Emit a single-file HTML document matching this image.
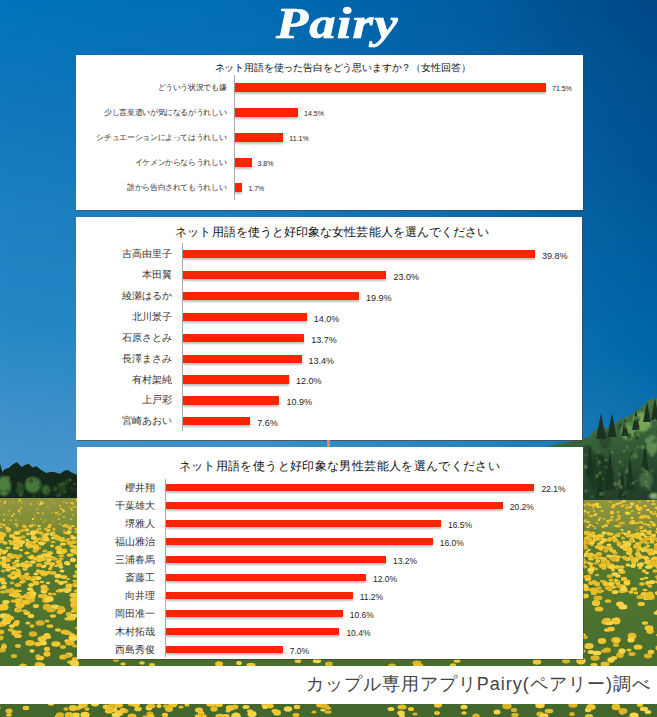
<!DOCTYPE html>
<html><head><meta charset="utf-8"><style>
html,body{margin:0;padding:0}
body{width:657px;height:717px;position:relative;overflow:hidden;font-family:"Liberation Sans",sans-serif;background:#1a78bd}
.panel{position:absolute;background:#fff;box-shadow:0 0 1px 0.5px rgba(70,60,50,.55)}
.t{position:absolute;white-space:nowrap;color:#111;line-height:1.2}
.axis{position:absolute;width:1px;background:#aaa}
.bar{position:absolute;background:#ff2400;box-shadow:0 2px 2px rgba(0,0,0,.25)}
.lab{position:absolute;white-space:nowrap;color:#333;text-align:right}
.val{position:absolute;white-space:nowrap;color:#262626}
.logo{position:absolute;left:276px;top:-2px;-webkit-text-stroke:0.7px #fff;font-family:"Liberation Serif",serif;font-weight:bold;font-style:italic;font-size:45px;line-height:50px;color:#fff;letter-spacing:1px;transform:scaleX(1.17);transform-origin:0 0}
.foot{position:absolute;left:0;top:666px;width:657px;height:38px;background:#fff}
.ft{position:absolute;right:6px;top:672px;font-size:18px;color:#444;white-space:nowrap;line-height:24px;letter-spacing:1.02px}
</style></head><body>
<div style="position:absolute;left:0;top:0px;width:657px;height:5px;background:linear-gradient(90deg,#0073bc 0px,#0072bb 15px,#006eb6 190px,#006cb4 250px,#005fa4 420px,#005a9e 490px,#005091 570px,#004887 642px,#004785 657px)"></div>
<div style="position:absolute;left:0;top:5px;width:657px;height:5px;background:linear-gradient(90deg,#0173bc 0px,#0172bb 15px,#016eb6 190px,#016cb4 250px,#0160a4 420px,#005b9e 490px,#005192 570px,#004988 642px,#004786 657px)"></div>
<div style="position:absolute;left:0;top:10px;width:657px;height:5px;background:linear-gradient(90deg,#0273bc 0px,#0272bb 15px,#026fb6 190px,#026db4 250px,#0160a4 420px,#015b9e 490px,#005192 570px,#004989 642px,#004887 657px)"></div>
<div style="position:absolute;left:0;top:15px;width:657px;height:5px;background:linear-gradient(90deg,#0274bc 0px,#0273bb 15px,#026fb6 190px,#026db4 250px,#0160a4 420px,#015b9e 490px,#005293 570px,#004a89 642px,#004887 657px)"></div>
<div style="position:absolute;left:0;top:20px;width:657px;height:5px;background:linear-gradient(90deg,#0374bc 0px,#0373bb 15px,#036fb6 190px,#036db4 250px,#0261a5 420px,#015c9f 490px,#015293 570px,#004a8a 642px,#004988 657px)"></div>
<div style="position:absolute;left:0;top:25px;width:657px;height:5px;background:linear-gradient(90deg,#0474bb 0px,#0473ba 15px,#036fb6 190px,#036db4 250px,#0261a5 420px,#025c9f 490px,#015294 570px,#004b8a 642px,#004989 657px)"></div>
<div style="position:absolute;left:0;top:30px;width:657px;height:5px;background:linear-gradient(90deg,#0574bb 0px,#0573ba 15px,#046fb6 190px,#046eb4 250px,#0361a5 420px,#025c9f 490px,#015394 570px,#004b8b 642px,#004a89 657px)"></div>
<div style="position:absolute;left:0;top:35px;width:657px;height:5px;background:linear-gradient(90deg,#0574bb 0px,#0574ba 15px,#0570b6 190px,#056eb4 250px,#0362a5 420px,#025da0 490px,#015395 570px,#004c8c 642px,#004a8a 657px)"></div>
<div style="position:absolute;left:0;top:40px;width:657px;height:5px;background:linear-gradient(90deg,#0674bb 0px,#0674ba 15px,#0570b6 190px,#056eb4 250px,#0362a6 420px,#035da0 490px,#015495 570px,#004c8c 642px,#004b8a 657px)"></div>
<div style="position:absolute;left:0;top:45px;width:657px;height:5px;background:linear-gradient(90deg,#0775bb 0px,#0774ba 15px,#0670b6 190px,#066eb4 250px,#0462a6 420px,#035ea0 490px,#015496 570px,#004d8d 642px,#004b8b 657px)"></div>
<div style="position:absolute;left:0;top:50px;width:657px;height:5px;background:linear-gradient(90deg,#0775bb 0px,#0774ba 15px,#0770b6 190px,#066fb4 250px,#0463a6 420px,#035ea1 490px,#015596 570px,#004d8e 642px,#004c8c 657px)"></div>
<div style="position:absolute;left:0;top:55px;width:657px;height:5px;background:linear-gradient(90deg,#0875bb 0px,#0874ba 15px,#0771b6 190px,#076fb4 250px,#0463a6 420px,#035ea1 490px,#025596 570px,#004e8e 642px,#004c8c 657px)"></div>
<div style="position:absolute;left:0;top:60px;width:657px;height:5px;background:linear-gradient(90deg,#0975bb 0px,#0974ba 15px,#0871b6 190px,#086fb4 250px,#0563a6 420px,#045fa1 490px,#025697 570px,#004e8f 642px,#004d8d 657px)"></div>
<div style="position:absolute;left:0;top:65px;width:657px;height:5px;background:linear-gradient(90deg,#0a75ba 0px,#0975ba 15px,#0971b6 190px,#086fb4 250px,#0564a7 420px,#045fa2 490px,#025697 570px,#004f8f 642px,#004d8e 657px)"></div>
<div style="position:absolute;left:0;top:70px;width:657px;height:5px;background:linear-gradient(90deg,#0a76ba 0px,#0a75ba 15px,#0971b6 190px,#0970b4 250px,#0664a7 420px,#045fa2 490px,#025698 570px,#004f90 642px,#004e8e 657px)"></div>
<div style="position:absolute;left:0;top:75px;width:657px;height:5px;background:linear-gradient(90deg,#0b76ba 0px,#0b75b9 15px,#0a72b6 190px,#0970b4 250px,#0664a7 420px,#0560a2 490px,#025798 570px,#005091 642px,#004e8f 657px)"></div>
<div style="position:absolute;left:0;top:80px;width:657px;height:5px;background:linear-gradient(90deg,#0c76ba 0px,#0c75b9 15px,#0a72b6 190px,#0a70b4 250px,#0665a7 420px,#0560a2 490px,#025799 570px,#005091 642px,#004f90 657px)"></div>
<div style="position:absolute;left:0;top:85px;width:657px;height:5px;background:linear-gradient(90deg,#0c76ba 0px,#0c76b9 15px,#0b72b5 190px,#0b70b4 250px,#0765a7 420px,#0560a3 490px,#025799 570px,#005092 642px,#004f90 657px)"></div>
<div style="position:absolute;left:0;top:90px;width:657px;height:5px;background:linear-gradient(90deg,#0d76ba 0px,#0d76b9 15px,#0c72b5 190px,#0b71b4 250px,#0765a8 420px,#0661a3 490px,#025899 570px,#005192 642px,#004f90 657px)"></div>
<div style="position:absolute;left:0;top:95px;width:657px;height:5px;background:linear-gradient(90deg,#0e77ba 0px,#0e76b9 15px,#0c72b5 190px,#0c71b4 250px,#0865a8 420px,#0661a3 490px,#03589a 570px,#005192 642px,#005091 657px)"></div>
<div style="position:absolute;left:0;top:100px;width:657px;height:5px;background:linear-gradient(90deg,#0f77ba 0px,#0e76b9 15px,#0d73b6 190px,#0c71b4 250px,#0866a8 420px,#0661a3 490px,#03589a 570px,#005193 642px,#005091 657px)"></div>
<div style="position:absolute;left:0;top:105px;width:657px;height:5px;background:linear-gradient(90deg,#0f77ba 0px,#0f77b9 15px,#0d73b6 190px,#0d71b4 250px,#0866a8 420px,#0662a4 490px,#03599b 570px,#005293 642px,#005092 657px)"></div>
<div style="position:absolute;left:0;top:110px;width:657px;height:5px;background:linear-gradient(90deg,#1078bb 0px,#1077ba 15px,#0e74b6 190px,#0d72b4 250px,#0966a9 420px,#0762a4 490px,#03599b 570px,#005294 642px,#005092 657px)"></div>
<div style="position:absolute;left:0;top:115px;width:657px;height:5px;background:linear-gradient(90deg,#1078bb 0px,#1078ba 15px,#0f74b6 190px,#0e72b5 250px,#0967a9 420px,#0762a4 490px,#03599b 570px,#005294 642px,#005193 657px)"></div>
<div style="position:absolute;left:0;top:120px;width:657px;height:5px;background:linear-gradient(90deg,#1179bb 0px,#1178ba 15px,#0f74b7 190px,#0e73b5 250px,#0967a9 420px,#0763a5 490px,#035a9c 570px,#005294 642px,#005193 657px)"></div>
<div style="position:absolute;left:0;top:125px;width:657px;height:5px;background:linear-gradient(90deg,#1279bb 0px,#1178bb 15px,#1075b7 190px,#0f73b5 250px,#0a67aa 420px,#0763a5 490px,#035a9c 570px,#005395 642px,#005193 657px)"></div>
<div style="position:absolute;left:0;top:130px;width:657px;height:5px;background:linear-gradient(90deg,#127abc 0px,#1279bb 15px,#1075b7 190px,#0f74b6 250px,#0a68aa 420px,#0863a6 490px,#035a9c 570px,#005395 642px,#005294 657px)"></div>
<div style="position:absolute;left:0;top:135px;width:657px;height:5px;background:linear-gradient(90deg,#137abc 0px,#1379bb 15px,#1176b8 190px,#1074b6 250px,#0a68aa 420px,#0864a6 490px,#045b9d 570px,#005396 642px,#005294 657px)"></div>
<div style="position:absolute;left:0;top:140px;width:657px;height:5px;background:linear-gradient(90deg,#147abc 0px,#137abc 15px,#1176b8 190px,#1074b6 250px,#0b69ab 420px,#0864a6 490px,#045b9d 570px,#005496 642px,#005295 657px)"></div>
<div style="position:absolute;left:0;top:145px;width:657px;height:5px;background:linear-gradient(90deg,#147bbd 0px,#147abc 15px,#1277b8 190px,#1175b7 250px,#0b69ab 420px,#0964a7 490px,#045b9e 570px,#005497 642px,#005295 657px)"></div>
<div style="position:absolute;left:0;top:150px;width:657px;height:5px;background:linear-gradient(90deg,#157bbd 0px,#147bbc 15px,#1277b9 190px,#1275b7 250px,#0b69ab 420px,#0965a7 490px,#045c9e 570px,#005497 642px,#005395 657px)"></div>
<div style="position:absolute;left:0;top:155px;width:657px;height:5px;background:linear-gradient(90deg,#157cbd 0px,#157bbc 15px,#1377b9 190px,#1276b7 250px,#0c6aac 420px,#0965a7 490px,#045c9e 570px,#005597 642px,#005396 657px)"></div>
<div style="position:absolute;left:0;top:160px;width:657px;height:5px;background:linear-gradient(90deg,#167cbe 0px,#167bbd 15px,#1478b9 190px,#1376b8 250px,#0c6aac 420px,#0965a8 490px,#045c9f 570px,#005598 642px,#005396 657px)"></div>
<div style="position:absolute;left:0;top:165px;width:657px;height:5px;background:linear-gradient(90deg,#177dbe 0px,#167cbd 15px,#1478ba 190px,#1376b8 250px,#0c6aad 420px,#0a66a8 490px,#045d9f 570px,#005598 642px,#005497 657px)"></div>
<div style="position:absolute;left:0;top:170px;width:657px;height:5px;background:linear-gradient(90deg,#177dbe 0px,#177cbd 15px,#1579ba 190px,#1477b8 250px,#0d6bad 420px,#0a66a8 490px,#045da0 570px,#005699 642px,#005497 657px)"></div>
<div style="position:absolute;left:0;top:175px;width:657px;height:5px;background:linear-gradient(90deg,#187ebe 0px,#177dbe 15px,#1579ba 190px,#1477b9 250px,#0d6bad 420px,#0a67a9 490px,#045ea0 570px,#005699 642px,#005598 657px)"></div>
<div style="position:absolute;left:0;top:180px;width:657px;height:5px;background:linear-gradient(90deg,#197ebf 0px,#187dbe 15px,#167abb 190px,#1578b9 250px,#0d6cae 420px,#0a67a9 490px,#055ea0 570px,#005799 642px,#005598 657px)"></div>
<div style="position:absolute;left:0;top:185px;width:657px;height:5px;background:linear-gradient(90deg,#197ebf 0px,#197ebe 15px,#167abb 190px,#1578b9 250px,#0e6cae 420px,#0b68aa 490px,#055fa1 570px,#00579a 642px,#005698 657px)"></div>
<div style="position:absolute;left:0;top:190px;width:657px;height:5px;background:linear-gradient(90deg,#1a7fbf 0px,#197ebf 15px,#177abb 190px,#1679ba 250px,#0e6dae 420px,#0b68aa 490px,#055fa1 570px,#00589a 642px,#005699 657px)"></div>
<div style="position:absolute;left:0;top:195px;width:657px;height:5px;background:linear-gradient(90deg,#1a7fc0 0px,#1a7ebf 15px,#177bbb 190px,#1679ba 250px,#0e6daf 420px,#0b69aa 490px,#0560a2 570px,#00589b 642px,#005799 657px)"></div>
<div style="position:absolute;left:0;top:200px;width:657px;height:5px;background:linear-gradient(90deg,#1b80c0 0px,#1a7fbf 15px,#187bbc 190px,#177aba 250px,#0f6eaf 420px,#0b69ab 490px,#0560a2 570px,#00599b 642px,#00579a 657px)"></div>
<div style="position:absolute;left:0;top:205px;width:657px;height:5px;background:linear-gradient(90deg,#1c80c0 0px,#1b7fc0 15px,#197cbc 190px,#177abb 250px,#0f6eaf 420px,#0c6aab 490px,#0561a2 570px,#00599c 642px,#00589a 657px)"></div>
<div style="position:absolute;left:0;top:210px;width:657px;height:5px;background:linear-gradient(90deg,#1c81c1 0px,#1c80c0 15px,#197cbc 190px,#187abb 250px,#0f6fb0 420px,#0c6aab 490px,#0561a3 570px,#005a9c 642px,#00589b 657px)"></div>
<div style="position:absolute;left:0;top:215px;width:657px;height:5px;background:linear-gradient(90deg,#1d81c1 0px,#1c80c0 15px,#197dbd 190px,#187bbb 250px,#0f6fb0 420px,#0c6bac 490px,#0562a3 570px,#005b9c 642px,#00599b 657px)"></div>
<div style="position:absolute;left:0;top:220px;width:657px;height:5px;background:linear-gradient(90deg,#1d81c1 0px,#1c80c0 15px,#1a7dbd 190px,#197bbb 250px,#1070b0 420px,#0c6bac 490px,#0562a4 570px,#005b9d 642px,#005a9b 657px)"></div>
<div style="position:absolute;left:0;top:225px;width:657px;height:5px;background:linear-gradient(90deg,#1d82c1 0px,#1d81c1 15px,#1a7dbd 190px,#197cbc 250px,#1070b1 420px,#0c6cad 490px,#0563a4 570px,#005c9d 642px,#005a9c 657px)"></div>
<div style="position:absolute;left:0;top:230px;width:657px;height:5px;background:linear-gradient(90deg,#1e82c2 0px,#1d81c1 15px,#1a7ebe 190px,#197cbc 250px,#1070b1 420px,#0d6cad 490px,#0663a4 570px,#005c9e 642px,#005b9c 657px)"></div>
<div style="position:absolute;left:0;top:235px;width:657px;height:5px;background:linear-gradient(90deg,#1e82c2 0px,#1e82c1 15px,#1b7ebe 190px,#197cbc 250px,#1071b1 420px,#0d6cad 490px,#0664a5 570px,#005d9e 642px,#005b9d 657px)"></div>
<div style="position:absolute;left:0;top:240px;width:657px;height:5px;background:linear-gradient(90deg,#1e83c2 0px,#1e82c2 15px,#1b7ebe 190px,#1a7dbd 250px,#1071b2 420px,#0d6dae 490px,#0664a5 570px,#005d9f 642px,#005c9d 657px)"></div>
<div style="position:absolute;left:0;top:245px;width:657px;height:5px;background:linear-gradient(90deg,#1f83c3 0px,#1e82c2 15px,#1b7fbf 190px,#1a7dbd 250px,#1172b2 420px,#0d6dae 490px,#0665a6 570px,#005e9f 642px,#005c9e 657px)"></div>
<div style="position:absolute;left:0;top:250px;width:657px;height:5px;background:linear-gradient(90deg,#1f83c3 0px,#1e82c2 15px,#1c7fbf 190px,#1a7dbd 250px,#1172b2 420px,#0d6eae 490px,#0665a6 570px,#005e9f 642px,#005d9e 657px)"></div>
<div style="position:absolute;left:0;top:255px;width:657px;height:5px;background:linear-gradient(90deg,#1f84c3 0px,#1f83c2 15px,#1c7fbf 190px,#1b7ebe 250px,#1173b3 420px,#0d6eaf 490px,#0666a6 570px,#005fa0 642px,#005d9e 657px)"></div>
<div style="position:absolute;left:0;top:260px;width:657px;height:5px;background:linear-gradient(90deg,#2084c3 0px,#1f83c3 15px,#1c80bf 190px,#1b7ebe 250px,#1173b3 420px,#0d6faf 490px,#0666a7 570px,#005fa0 642px,#005e9f 657px)"></div>
<div style="position:absolute;left:0;top:265px;width:657px;height:5px;background:linear-gradient(90deg,#2084c4 0px,#2084c3 15px,#1d80c0 190px,#1b7fbe 250px,#1173b4 420px,#0e6faf 490px,#0667a7 570px,#0060a1 642px,#005e9f 657px)"></div>
<div style="position:absolute;left:0;top:270px;width:657px;height:5px;background:linear-gradient(90deg,#2085c4 0px,#2084c3 15px,#1d80c0 190px,#1b7fbe 250px,#1274b4 420px,#0e70b0 490px,#0667a8 570px,#0060a1 642px,#005fa0 657px)"></div>
<div style="position:absolute;left:0;top:275px;width:657px;height:5px;background:linear-gradient(90deg,#2185c4 0px,#2084c4 15px,#1d81c0 190px,#1c7fbf 250px,#1274b4 420px,#0e70b0 490px,#0668a8 570px,#0061a1 642px,#005fa0 657px)"></div>
<div style="position:absolute;left:0;top:280px;width:657px;height:5px;background:linear-gradient(90deg,#2185c5 0px,#2084c4 15px,#1d81c1 190px,#1c80bf 250px,#1275b5 420px,#0e70b0 490px,#0668a8 570px,#0061a2 642px,#0060a1 657px)"></div>
<div style="position:absolute;left:0;top:285px;width:657px;height:5px;background:linear-gradient(90deg,#2186c5 0px,#2185c4 15px,#1e82c1 190px,#1c80bf 250px,#1275b5 420px,#0e71b1 490px,#0669a9 570px,#0062a2 642px,#0060a1 657px)"></div>
<div style="position:absolute;left:0;top:290px;width:657px;height:5px;background:linear-gradient(90deg,#2286c5 0px,#2185c4 15px,#1e82c1 190px,#1d80c0 250px,#1276b5 420px,#0e71b1 490px,#0669a9 570px,#0062a3 642px,#0061a1 657px)"></div>
<div style="position:absolute;left:0;top:295px;width:657px;height:5px;background:linear-gradient(90deg,#2286c5 0px,#2286c5 15px,#1e82c2 190px,#1d81c0 250px,#1276b6 420px,#0e72b2 490px,#066aaa 570px,#0063a3 642px,#0062a2 657px)"></div>
<div style="position:absolute;left:0;top:300px;width:657px;height:5px;background:linear-gradient(90deg,#2387c6 0px,#2286c5 15px,#1f83c2 190px,#1d81c0 250px,#1376b6 420px,#0f72b2 490px,#066aaa 570px,#0063a4 642px,#0062a2 657px)"></div>
<div style="position:absolute;left:0;top:305px;width:657px;height:5px;background:linear-gradient(90deg,#2387c6 0px,#2286c5 15px,#1f83c2 190px,#1d81c1 250px,#1377b6 420px,#0f73b2 490px,#066aaa 570px,#0064a4 642px,#0063a3 657px)"></div>
<div style="position:absolute;left:0;top:310px;width:657px;height:5px;background:linear-gradient(90deg,#2387c6 0px,#2286c6 15px,#1f83c2 190px,#1e82c1 250px,#1377b7 420px,#0f73b3 490px,#076bab 570px,#0065a4 642px,#0063a3 657px)"></div>
<div style="position:absolute;left:0;top:315px;width:657px;height:5px;background:linear-gradient(90deg,#2488c7 0px,#2387c6 15px,#2084c3 190px,#1e82c1 250px,#1378b7 420px,#0f74b3 490px,#076bab 570px,#0065a5 642px,#0064a4 657px)"></div>
<div style="position:absolute;left:0;top:320px;width:657px;height:5px;background:linear-gradient(90deg,#2488c7 0px,#2487c6 15px,#2084c3 190px,#1f83c1 250px,#1478b7 420px,#0f74b3 490px,#076cab 570px,#0066a5 642px,#0064a4 657px)"></div>
<div style="position:absolute;left:0;top:325px;width:657px;height:5px;background:linear-gradient(90deg,#2688c7 0px,#2588c6 15px,#2285c3 190px,#2083c2 250px,#1479b8 420px,#1075b4 490px,#076cac 570px,#0066a6 642px,#0065a4 657px)"></div>
<div style="position:absolute;left:0;top:330px;width:657px;height:5px;background:linear-gradient(90deg,#2789c7 0px,#2688c6 15px,#2385c3 190px,#2183c2 250px,#1579b8 420px,#1075b4 490px,#076dac 570px,#0067a6 642px,#0065a5 657px)"></div>
<div style="position:absolute;left:0;top:335px;width:657px;height:5px;background:linear-gradient(90deg,#2989c7 0px,#2889c6 15px,#2485c3 190px,#2284c2 250px,#167ab8 420px,#1176b4 490px,#086ead 570px,#0067a7 642px,#0066a5 657px)"></div>
<div style="position:absolute;left:0;top:340px;width:657px;height:5px;background:linear-gradient(90deg,#2a8ac7 0px,#2989c7 15px,#2586c4 190px,#2384c2 250px,#177ab8 420px,#1276b5 490px,#086ead 570px,#0068a7 642px,#0066a6 657px)"></div>
<div style="position:absolute;left:0;top:345px;width:657px;height:5px;background:linear-gradient(90deg,#2b8ac7 0px,#2a8ac7 15px,#2686c4 190px,#2485c2 250px,#177bb9 420px,#1277b5 490px,#086fad 570px,#0068a7 642px,#0067a6 657px)"></div>
<div style="position:absolute;left:0;top:350px;width:657px;height:5px;background:linear-gradient(90deg,#2d8bc7 0px,#2c8ac7 15px,#2887c4 190px,#2685c2 250px,#187bb9 420px,#1377b5 490px,#086fae 570px,#0069a8 642px,#0067a7 657px)"></div>
<div style="position:absolute;left:0;top:355px;width:657px;height:5px;background:linear-gradient(90deg,#2e8bc8 0px,#2d8bc7 15px,#2987c4 190px,#2786c3 250px,#197cb9 420px,#1478b5 490px,#0970ae 570px,#0169a8 642px,#0068a7 657px)"></div>
<div style="position:absolute;left:0;top:360px;width:657px;height:5px;background:linear-gradient(90deg,#2f8cc8 0px,#2e8bc7 15px,#2a88c4 190px,#2886c3 250px,#1a7cb9 420px,#1578b6 490px,#0a70af 570px,#026aa9 642px,#0069a8 657px)"></div>
<div style="position:absolute;left:0;top:365px;width:657px;height:5px;background:linear-gradient(90deg,#318cc8 0px,#308cc7 15px,#2c88c4 190px,#2987c3 250px,#1c7dba 420px,#1679b6 490px,#0b71af 570px,#036ba9 642px,#0169a8 657px)"></div>
<div style="position:absolute;left:0;top:370px;width:657px;height:5px;background:linear-gradient(90deg,#328dc8 0px,#318cc7 15px,#2d89c5 190px,#2b87c3 250px,#1d7dba 420px,#1779b7 490px,#0c71af 570px,#046baa 642px,#026aa9 657px)"></div>
<div style="position:absolute;left:0;top:375px;width:657px;height:5px;background:linear-gradient(90deg,#338dc8 0px,#328cc8 15px,#2e89c5 190px,#2c88c3 250px,#1e7eba 420px,#187ab7 490px,#0e72b0 570px,#056caa 642px,#036aa9 657px)"></div>
<div style="position:absolute;left:0;top:380px;width:657px;height:5px;background:linear-gradient(90deg,#358ec8 0px,#348dc8 15px,#2f8ac5 190px,#2d88c4 250px,#1f7ebb 420px,#1a7ab7 490px,#0f73b0 570px,#066cab 642px,#046baa 657px)"></div>
<div style="position:absolute;left:0;top:385px;width:657px;height:5px;background:linear-gradient(90deg,#368ec8 0px,#358dc8 15px,#318ac5 190px,#2f89c4 250px,#207fbb 420px,#1b7bb8 490px,#1073b1 570px,#076dac 642px,#056caa 657px)"></div>
<div style="position:absolute;left:0;top:390px;width:657px;height:5px;background:linear-gradient(90deg,#378fc8 0px,#378ec8 15px,#328bc5 190px,#3089c4 250px,#227fbb 420px,#1c7cb8 490px,#1174b1 570px,#086eac 642px,#066cab 657px)"></div>
<div style="position:absolute;left:0;top:395px;width:657px;height:5px;background:linear-gradient(90deg,#398fc9 0px,#388ec8 15px,#338bc5 190px,#318ac4 250px,#2380bc 420px,#1d7cb8 490px,#1274b2 570px,#096ead 642px,#076dab 657px)"></div>
<div style="position:absolute;left:0;top:400px;width:657px;height:5px;background:linear-gradient(90deg,#3a90c9 0px,#398fc8 15px,#358cc6 190px,#338ac4 250px,#2480bc 420px,#1e7db9 490px,#1375b2 570px,#0a6fad 642px,#086eac 657px)"></div>
<div style="position:absolute;left:0;top:405px;width:657px;height:5px;background:linear-gradient(90deg,#3c90c9 0px,#3b8fc8 15px,#368cc6 190px,#348bc5 250px,#2581bc 420px,#207db9 490px,#1476b3 570px,#0b6fae 642px,#096ead 657px)"></div>
<div style="position:absolute;left:0;top:410px;width:657px;height:5px;background:linear-gradient(90deg,#3d90c9 0px,#3c90c8 15px,#378dc6 190px,#358bc5 250px,#2782bd 420px,#217eb9 490px,#1576b3 570px,#0c70ae 642px,#0a6fad 657px)"></div>
<div style="position:absolute;left:0;top:415px;width:657px;height:5px;background:linear-gradient(90deg,#3e91c9 0px,#3d90c9 15px,#398dc6 190px,#378cc5 250px,#2882bd 420px,#227eba 490px,#1777b4 570px,#0d71af 642px,#0c6fae 657px)"></div>
<div style="position:absolute;left:0;top:420px;width:657px;height:5px;background:linear-gradient(90deg,#4091c9 0px,#3f91c9 15px,#3a8ec6 190px,#388cc5 250px,#2983bd 420px,#237fba 490px,#1777b4 570px,#0e71af 642px,#0c70ae 657px)"></div>
<div style="position:absolute;left:0;top:425px;width:657px;height:5px;background:linear-gradient(90deg,#4192c9 0px,#4091c9 15px,#3b8ec6 190px,#398dc5 250px,#2a83bd 420px,#247fba 490px,#1878b4 570px,#0f72af 642px,#0d70ae 657px)"></div>
<div style="position:absolute;left:0;top:430px;width:657px;height:5px;background:linear-gradient(90deg,#4292c9 0px,#4192c9 15px,#3d8fc7 190px,#3a8dc5 250px,#2b84be 420px,#2580bb 490px,#1978b5 570px,#0f72b0 642px,#0d71af 657px)"></div>
<div style="position:absolute;left:0;top:435px;width:657px;height:5px;background:linear-gradient(90deg,#4393ca 0px,#4292c9 15px,#3e8fc7 190px,#3b8ec6 250px,#2b84be 420px,#2580bb 490px,#1979b5 570px,#0f73b0 642px,#0d71af 657px)"></div>
<div style="position:absolute;left:0;top:440px;width:657px;height:5px;background:linear-gradient(90deg,#4493ca 0px,#4393ca 15px,#3e90c7 190px,#3c8ec6 250px,#2c84be 420px,#2681bb 490px,#1979b5 570px,#1073b0 642px,#0e72af 657px)"></div>
<div style="position:absolute;left:0;top:445px;width:657px;height:5px;background:linear-gradient(90deg,#4594cb 0px,#4493ca 15px,#3f90c8 190px,#3d8fc7 250px,#2d85bf 420px,#2681bc 490px,#1a79b6 570px,#1073b1 642px,#0e72b0 657px)"></div>
<div style="position:absolute;left:0;top:450px;width:657px;height:5px;background:linear-gradient(90deg,#4695cb 0px,#4594cb 15px,#4091c8 190px,#3d8fc7 250px,#2d85bf 420px,#2782bc 490px,#1a7ab6 570px,#1074b1 642px,#0e73b0 657px)"></div>
<div style="position:absolute;left:0;top:455px;width:657px;height:5px;background:linear-gradient(90deg,#4795cc 0px,#4594cb 15px,#4091c9 190px,#3e90c8 250px,#2e86c0 420px,#2782bd 490px,#1b7ab6 570px,#1174b1 642px,#0f73b0 657px)"></div>
<div style="position:absolute;left:0;top:460px;width:657px;height:5px;background:linear-gradient(90deg,#4796cc 0px,#4695cc 15px,#4192c9 190px,#3f90c8 250px,#2e86c0 420px,#2883bd 490px,#1b7bb7 570px,#1175b2 642px,#0f73b1 657px)"></div>
<div style="position:absolute;left:0;top:465px;width:657px;height:5px;background:linear-gradient(90deg,#4896cd 0px,#4796cc 15px,#4292ca 190px,#4091c9 250px,#2f87c1 420px,#2983bd 490px,#1c7bb7 570px,#1275b2 642px,#0f74b1 657px)"></div>
<div style="position:absolute;left:0;top:470px;width:657px;height:5px;background:linear-gradient(90deg,#4997ce 0px,#4896cd 15px,#4393ca 190px,#4091c9 250px,#3087c1 420px,#2984be 490px,#1c7cb7 570px,#1276b2 642px,#1074b1 657px)"></div>
<div style="position:absolute;left:0;top:475px;width:657px;height:5px;background:linear-gradient(90deg,#4a97ce 0px,#4997ce 15px,#4393cb 190px,#4192ca 250px,#3088c1 420px,#2a84be 490px,#1d7cb8 570px,#1276b3 642px,#1075b2 657px)"></div>
<div style="position:absolute;left:0;top:480px;width:657px;height:5px;background:linear-gradient(90deg,#4a98cf 0px,#4997ce 15px,#4494cc 190px,#4293ca 250px,#3188c2 420px,#2a85bf 490px,#1d7db8 570px,#1376b3 642px,#1175b2 657px)"></div>
<div style="position:absolute;left:0;top:485px;width:657px;height:5px;background:linear-gradient(90deg,#4b98cf 0px,#4a98cf 15px,#4595cc 190px,#4293cb 250px,#3189c2 420px,#2b85bf 490px,#1e7db8 570px,#1377b3 642px,#1176b2 657px)"></div>
<div style="position:absolute;left:0;top:490px;width:657px;height:5px;background:linear-gradient(90deg,#4c99d0 0px,#4b98cf 15px,#4695cd 190px,#4394cb 250px,#3289c3 420px,#2b85bf 490px,#1e7eb9 570px,#1377b4 642px,#1176b2 657px)"></div>
<div style="position:absolute;left:0;top:495px;width:657px;height:5px;background:linear-gradient(90deg,#4d99d0 0px,#4c99d0 15px,#4696cd 190px,#4494cc 250px,#338ac3 420px,#2c86c0 490px,#1e7eb9 570px,#1478b4 642px,#1276b3 657px)"></div>
<svg style="position:absolute;left:0;top:0" width="657" height="717">
<defs><linearGradient id="mg" x1="0" y1="0" x2="0" y2="1"><stop offset="0" stop-color="#94983f"/><stop offset="0.13" stop-color="#7f8c38"/><stop offset="0.2" stop-color="#557c30"/><stop offset="1" stop-color="#42662c"/></linearGradient></defs>
<rect x="0" y="496" width="657" height="221" fill="url(#mg)"/>
<ellipse cx="63" cy="512" rx="0.9" ry="0.6" fill="#f2c934"/>
<ellipse cx="47" cy="563" rx="2.9" ry="1.9" fill="#f0c52e"/>
<ellipse cx="-3" cy="586" rx="2.2" ry="1.3" fill="#f2c934"/>
<ellipse cx="62" cy="551" rx="2.1" ry="1.2" fill="#f7d548"/>
<ellipse cx="16" cy="545" rx="2.9" ry="1.8" fill="#f7d548"/>
<ellipse cx="19" cy="511" rx="1.5" ry="1.0" fill="#f2c934"/>
<ellipse cx="7" cy="616" rx="3.6" ry="2.2" fill="#f0c52e"/>
<ellipse cx="61" cy="567" rx="2.4" ry="1.8" fill="#f2c934"/>
<ellipse cx="21" cy="508" rx="1.2" ry="0.7" fill="#f0c52e"/>
<ellipse cx="27" cy="602" rx="3.9" ry="2.7" fill="#e8bd2a"/>
<ellipse cx="70" cy="527" rx="2.4" ry="1.7" fill="#e8bd2a"/>
<ellipse cx="37" cy="509" rx="0.9" ry="0.6" fill="#f7d548"/>
<ellipse cx="11" cy="618" rx="3.1" ry="2.0" fill="#f0c52e"/>
<ellipse cx="19" cy="572" rx="2.2" ry="1.3" fill="#f0c52e"/>
<ellipse cx="79" cy="512" rx="1.1" ry="0.6" fill="#f0c52e"/>
<ellipse cx="46" cy="520" rx="0.8" ry="0.6" fill="#f7d548"/>
<ellipse cx="23" cy="666" rx="3.8" ry="2.6" fill="#e8bd2a"/>
<ellipse cx="46" cy="600" rx="4.0" ry="3.0" fill="#dcb428"/>
<ellipse cx="58" cy="562" rx="2.7" ry="1.6" fill="#f0c52e"/>
<ellipse cx="3" cy="624" rx="3.9" ry="2.4" fill="#e8bd2a"/>
<ellipse cx="75" cy="581" rx="2.6" ry="1.5" fill="#dcb428"/>
<ellipse cx="72" cy="503" rx="1.5" ry="1.0" fill="#f2c934"/>
<ellipse cx="34" cy="543" rx="2.4" ry="1.6" fill="#dcb428"/>
<ellipse cx="20" cy="556" rx="2.6" ry="1.7" fill="#dcb428"/>
<ellipse cx="16" cy="520" rx="1.2" ry="0.8" fill="#f0c52e"/>
<ellipse cx="54" cy="530" rx="1.6" ry="0.8" fill="#dcb428"/>
<ellipse cx="41" cy="502" rx="1.3" ry="0.9" fill="#f0c52e"/>
<ellipse cx="39" cy="665" rx="4.5" ry="3.0" fill="#e8bd2a"/>
<ellipse cx="73" cy="560" rx="3.1" ry="2.2" fill="#f7d548"/>
<ellipse cx="69" cy="555" rx="2.4" ry="1.6" fill="#f7d548"/>
<ellipse cx="1" cy="632" rx="3.3" ry="2.3" fill="#e8bd2a"/>
<ellipse cx="67" cy="591" rx="2.8" ry="2.0" fill="#f7d548"/>
<ellipse cx="-2" cy="529" rx="2.2" ry="1.3" fill="#f7d548"/>
<ellipse cx="41" cy="533" rx="2.6" ry="1.7" fill="#e8bd2a"/>
<ellipse cx="73" cy="550" rx="3.2" ry="1.8" fill="#e8bd2a"/>
<ellipse cx="71" cy="519" rx="1.3" ry="0.7" fill="#f2c934"/>
<ellipse cx="12" cy="516" rx="0.9" ry="0.5" fill="#f2c934"/>
<ellipse cx="32" cy="556" rx="2.3" ry="1.5" fill="#f2c934"/>
<ellipse cx="68" cy="527" rx="2.2" ry="1.3" fill="#e8bd2a"/>
<ellipse cx="6" cy="622" rx="4.7" ry="2.5" fill="#f7d548"/>
<ellipse cx="61" cy="565" rx="1.9" ry="1.1" fill="#dcb428"/>
<ellipse cx="73" cy="504" rx="1.5" ry="0.8" fill="#e8bd2a"/>
<ellipse cx="18" cy="564" rx="2.1" ry="1.2" fill="#f2c934"/>
<ellipse cx="18" cy="543" rx="2.6" ry="1.6" fill="#f0c52e"/>
<ellipse cx="10" cy="576" rx="2.8" ry="1.8" fill="#f2c934"/>
<ellipse cx="33" cy="580" rx="2.6" ry="1.5" fill="#f0c52e"/>
<ellipse cx="-3" cy="538" rx="2.0" ry="1.4" fill="#dcb428"/>
<ellipse cx="0" cy="550" rx="2.7" ry="1.8" fill="#f7d548"/>
<ellipse cx="35" cy="531" rx="2.0" ry="1.1" fill="#dcb428"/>
<ellipse cx="8" cy="567" rx="2.7" ry="1.8" fill="#f7d548"/>
<ellipse cx="49" cy="557" rx="2.8" ry="1.8" fill="#f0c52e"/>
<ellipse cx="12" cy="543" rx="3.2" ry="2.0" fill="#e8bd2a"/>
<ellipse cx="71" cy="503" rx="1.0" ry="0.6" fill="#f0c52e"/>
<ellipse cx="-1" cy="534" rx="2.9" ry="2.1" fill="#e8bd2a"/>
<ellipse cx="37" cy="532" rx="2.2" ry="1.6" fill="#f2c934"/>
<ellipse cx="60" cy="562" rx="2.0" ry="1.4" fill="#f0c52e"/>
<ellipse cx="4" cy="645" rx="2.7" ry="1.8" fill="#dcb428"/>
<ellipse cx="73" cy="551" rx="2.7" ry="1.9" fill="#f7d548"/>
<ellipse cx="72" cy="538" rx="2.3" ry="1.4" fill="#dcb428"/>
<ellipse cx="27" cy="562" rx="2.7" ry="1.5" fill="#f2c934"/>
<ellipse cx="63" cy="510" rx="1.3" ry="1.0" fill="#f2c934"/>
<ellipse cx="-2" cy="607" rx="4.4" ry="2.7" fill="#e8bd2a"/>
<ellipse cx="74" cy="538" rx="2.7" ry="1.8" fill="#f7d548"/>
<ellipse cx="13" cy="568" rx="3.5" ry="1.8" fill="#f7d548"/>
<ellipse cx="58" cy="548" rx="3.2" ry="2.3" fill="#dcb428"/>
<ellipse cx="23" cy="530" rx="2.1" ry="1.3" fill="#dcb428"/>
<ellipse cx="47" cy="534" rx="2.2" ry="1.2" fill="#f7d548"/>
<ellipse cx="34" cy="538" rx="3.1" ry="1.9" fill="#f7d548"/>
<ellipse cx="42" cy="582" rx="2.2" ry="1.2" fill="#f2c934"/>
<ellipse cx="62" cy="571" rx="2.6" ry="1.6" fill="#f7d548"/>
<ellipse cx="23" cy="565" rx="3.3" ry="2.2" fill="#f2c934"/>
<ellipse cx="27" cy="613" rx="3.4" ry="2.1" fill="#f2c934"/>
<ellipse cx="44" cy="574" rx="3.6" ry="2.5" fill="#e8bd2a"/>
<ellipse cx="60" cy="590" rx="2.2" ry="1.3" fill="#f2c934"/>
<ellipse cx="4" cy="520" rx="1.3" ry="0.9" fill="#e8bd2a"/>
<ellipse cx="56" cy="513" rx="1.5" ry="0.9" fill="#f2c934"/>
<ellipse cx="8" cy="531" rx="2.2" ry="1.4" fill="#dcb428"/>
<ellipse cx="80" cy="586" rx="2.2" ry="1.3" fill="#dcb428"/>
<ellipse cx="5" cy="560" rx="3.0" ry="2.1" fill="#f0c52e"/>
<ellipse cx="57" cy="539" rx="2.2" ry="1.2" fill="#f0c52e"/>
<ellipse cx="49" cy="530" rx="1.7" ry="1.1" fill="#f7d548"/>
<ellipse cx="44" cy="591" rx="3.4" ry="2.6" fill="#f7d548"/>
<ellipse cx="45" cy="637" rx="3.8" ry="2.0" fill="#f2c934"/>
<ellipse cx="50" cy="626" rx="3.5" ry="1.8" fill="#f0c52e"/>
<ellipse cx="29" cy="593" rx="2.8" ry="1.6" fill="#f0c52e"/>
<ellipse cx="38" cy="513" rx="1.4" ry="1.0" fill="#f0c52e"/>
<ellipse cx="22" cy="597" rx="2.8" ry="1.7" fill="#f0c52e"/>
<ellipse cx="35" cy="546" rx="1.8" ry="1.0" fill="#dcb428"/>
<ellipse cx="26" cy="596" rx="2.6" ry="1.9" fill="#f7d548"/>
<ellipse cx="69" cy="614" rx="3.3" ry="2.3" fill="#dcb428"/>
<ellipse cx="44" cy="587" rx="3.5" ry="2.6" fill="#f2c934"/>
<ellipse cx="57" cy="581" rx="2.4" ry="1.7" fill="#f0c52e"/>
<ellipse cx="20" cy="605" rx="4.8" ry="2.9" fill="#f0c52e"/>
<ellipse cx="2" cy="650" rx="3.9" ry="2.5" fill="#dcb428"/>
<ellipse cx="64" cy="511" rx="1.3" ry="0.7" fill="#f7d548"/>
<ellipse cx="74" cy="595" rx="4.6" ry="2.3" fill="#f2c934"/>
<ellipse cx="40" cy="658" rx="4.3" ry="2.3" fill="#f0c52e"/>
<ellipse cx="47" cy="540" rx="3.3" ry="1.7" fill="#dcb428"/>
<ellipse cx="70" cy="527" rx="1.4" ry="0.9" fill="#dcb428"/>
<ellipse cx="-1" cy="515" rx="1.2" ry="0.8" fill="#e8bd2a"/>
<ellipse cx="47" cy="573" rx="2.7" ry="1.8" fill="#f2c934"/>
<ellipse cx="31" cy="585" rx="2.9" ry="1.8" fill="#f2c934"/>
<ellipse cx="3" cy="535" rx="3.2" ry="2.4" fill="#e8bd2a"/>
<ellipse cx="-1" cy="565" rx="1.9" ry="1.1" fill="#f0c52e"/>
<ellipse cx="76" cy="532" rx="1.8" ry="1.1" fill="#e8bd2a"/>
<ellipse cx="12" cy="589" rx="2.3" ry="1.3" fill="#dcb428"/>
<ellipse cx="49" cy="527" rx="2.0" ry="1.2" fill="#f2c934"/>
<ellipse cx="55" cy="558" rx="1.8" ry="1.0" fill="#f7d548"/>
<ellipse cx="14" cy="514" rx="1.3" ry="0.9" fill="#e8bd2a"/>
<ellipse cx="-2" cy="551" rx="1.9" ry="1.4" fill="#f7d548"/>
<ellipse cx="12" cy="583" rx="2.3" ry="1.4" fill="#dcb428"/>
<ellipse cx="9" cy="531" rx="2.2" ry="1.3" fill="#dcb428"/>
<ellipse cx="40" cy="556" rx="2.3" ry="1.5" fill="#e8bd2a"/>
<ellipse cx="24" cy="581" rx="2.2" ry="1.3" fill="#dcb428"/>
<ellipse cx="61" cy="556" rx="2.6" ry="1.8" fill="#dcb428"/>
<ellipse cx="64" cy="577" rx="3.4" ry="1.9" fill="#f2c934"/>
<ellipse cx="74" cy="542" rx="3.1" ry="1.8" fill="#f7d548"/>
<ellipse cx="71" cy="508" rx="1.0" ry="0.6" fill="#f7d548"/>
<ellipse cx="18" cy="610" rx="3.6" ry="2.4" fill="#f7d548"/>
<ellipse cx="48" cy="507" rx="1.1" ry="0.7" fill="#dcb428"/>
<ellipse cx="9" cy="529" rx="2.2" ry="1.2" fill="#f2c934"/>
<ellipse cx="75" cy="663" rx="3.8" ry="2.7" fill="#f0c52e"/>
<ellipse cx="64" cy="531" rx="1.5" ry="0.8" fill="#e8bd2a"/>
<ellipse cx="44" cy="559" rx="2.9" ry="1.8" fill="#e8bd2a"/>
<ellipse cx="51" cy="558" rx="3.2" ry="2.2" fill="#f2c934"/>
<ellipse cx="13" cy="592" rx="3.6" ry="2.4" fill="#e8bd2a"/>
<ellipse cx="7" cy="560" rx="2.1" ry="1.2" fill="#f2c934"/>
<ellipse cx="75" cy="542" rx="2.1" ry="1.4" fill="#dcb428"/>
<ellipse cx="75" cy="664" rx="4.2" ry="2.2" fill="#f2c934"/>
<ellipse cx="12" cy="557" rx="3.0" ry="1.8" fill="#f2c934"/>
<ellipse cx="67" cy="641" rx="2.7" ry="1.7" fill="#f7d548"/>
<ellipse cx="44" cy="543" rx="2.3" ry="1.2" fill="#e8bd2a"/>
<ellipse cx="27" cy="540" rx="1.9" ry="1.3" fill="#f7d548"/>
<ellipse cx="80" cy="565" rx="2.3" ry="1.5" fill="#f0c52e"/>
<ellipse cx="67" cy="619" rx="2.6" ry="1.4" fill="#f2c934"/>
<ellipse cx="53" cy="542" rx="2.6" ry="1.3" fill="#dcb428"/>
<ellipse cx="45" cy="535" rx="2.3" ry="1.5" fill="#f7d548"/>
<ellipse cx="49" cy="572" rx="2.0" ry="1.3" fill="#f0c52e"/>
<ellipse cx="4" cy="553" rx="2.1" ry="1.4" fill="#f0c52e"/>
<ellipse cx="22" cy="531" rx="1.5" ry="0.9" fill="#e8bd2a"/>
<ellipse cx="39" cy="565" rx="2.6" ry="1.9" fill="#e8bd2a"/>
<ellipse cx="-2" cy="526" rx="2.1" ry="1.3" fill="#f7d548"/>
<ellipse cx="31" cy="616" rx="3.2" ry="2.1" fill="#f7d548"/>
<ellipse cx="39" cy="560" rx="1.8" ry="1.3" fill="#f0c52e"/>
<ellipse cx="47" cy="654" rx="3.6" ry="2.7" fill="#f0c52e"/>
<ellipse cx="30" cy="643" rx="4.8" ry="3.0" fill="#e8bd2a"/>
<ellipse cx="8" cy="515" rx="1.0" ry="0.6" fill="#e8bd2a"/>
<ellipse cx="70" cy="529" rx="2.1" ry="1.1" fill="#f0c52e"/>
<ellipse cx="2" cy="580" rx="3.4" ry="2.5" fill="#f2c934"/>
<ellipse cx="5" cy="502" rx="1.4" ry="1.0" fill="#f2c934"/>
<ellipse cx="31" cy="600" rx="4.1" ry="2.5" fill="#dcb428"/>
<ellipse cx="-3" cy="554" rx="2.7" ry="1.6" fill="#f0c52e"/>
<ellipse cx="11" cy="595" rx="2.4" ry="1.3" fill="#f7d548"/>
<ellipse cx="48" cy="557" rx="3.3" ry="2.2" fill="#f7d548"/>
<ellipse cx="2" cy="541" rx="2.7" ry="1.5" fill="#e8bd2a"/>
<ellipse cx="56" cy="536" rx="2.2" ry="1.6" fill="#f7d548"/>
<ellipse cx="15" cy="577" rx="2.6" ry="1.5" fill="#f2c934"/>
<ellipse cx="27" cy="553" rx="2.8" ry="1.6" fill="#f2c934"/>
<ellipse cx="53" cy="538" rx="2.0" ry="1.4" fill="#f7d548"/>
<ellipse cx="29" cy="543" rx="3.1" ry="2.2" fill="#f2c934"/>
<ellipse cx="4" cy="558" rx="2.9" ry="1.9" fill="#f7d548"/>
<ellipse cx="53" cy="522" rx="0.9" ry="0.6" fill="#dcb428"/>
<ellipse cx="80" cy="532" rx="1.5" ry="0.9" fill="#f2c934"/>
<ellipse cx="5" cy="566" rx="3.3" ry="2.3" fill="#f2c934"/>
<ellipse cx="22" cy="582" rx="2.9" ry="1.5" fill="#f2c934"/>
<ellipse cx="39" cy="548" rx="2.1" ry="1.4" fill="#dcb428"/>
<ellipse cx="1" cy="533" rx="2.6" ry="1.6" fill="#f2c934"/>
<ellipse cx="65" cy="582" rx="2.9" ry="1.6" fill="#f0c52e"/>
<ellipse cx="-2" cy="515" rx="1.5" ry="1.0" fill="#f2c934"/>
<ellipse cx="29" cy="547" rx="2.6" ry="1.7" fill="#dcb428"/>
<ellipse cx="0" cy="638" rx="3.7" ry="2.4" fill="#dcb428"/>
<ellipse cx="28" cy="597" rx="4.1" ry="2.4" fill="#e8bd2a"/>
<ellipse cx="60" cy="505" rx="1.0" ry="0.6" fill="#dcb428"/>
<ellipse cx="51" cy="559" rx="2.6" ry="1.4" fill="#dcb428"/>
<ellipse cx="75" cy="605" rx="4.7" ry="3.2" fill="#f0c52e"/>
<ellipse cx="66" cy="525" rx="2.2" ry="1.2" fill="#dcb428"/>
<ellipse cx="55" cy="607" rx="4.5" ry="2.4" fill="#f7d548"/>
<ellipse cx="42" cy="639" rx="4.5" ry="2.8" fill="#f2c934"/>
<ellipse cx="26" cy="566" rx="3.2" ry="2.2" fill="#f7d548"/>
<ellipse cx="16" cy="624" rx="3.2" ry="2.3" fill="#f2c934"/>
<ellipse cx="80" cy="556" rx="2.5" ry="1.6" fill="#dcb428"/>
<ellipse cx="19" cy="538" rx="2.6" ry="1.5" fill="#f7d548"/>
<ellipse cx="20" cy="591" rx="2.0" ry="1.0" fill="#f7d548"/>
<ellipse cx="66" cy="589" rx="2.1" ry="1.4" fill="#e8bd2a"/>
<ellipse cx="62" cy="540" rx="3.2" ry="1.9" fill="#f0c52e"/>
<ellipse cx="44" cy="555" rx="3.2" ry="1.7" fill="#f2c934"/>
<ellipse cx="75" cy="659" rx="3.4" ry="2.0" fill="#e8bd2a"/>
<ellipse cx="1" cy="609" rx="2.6" ry="1.7" fill="#f0c52e"/>
<ellipse cx="75" cy="646" rx="2.9" ry="1.6" fill="#dcb428"/>
<ellipse cx="15" cy="542" rx="2.6" ry="1.9" fill="#e8bd2a"/>
<ellipse cx="69" cy="655" rx="3.7" ry="2.4" fill="#f0c52e"/>
<ellipse cx="77" cy="500" rx="1.4" ry="0.9" fill="#f0c52e"/>
<ellipse cx="14" cy="563" rx="2.3" ry="1.3" fill="#dcb428"/>
<ellipse cx="53" cy="573" rx="3.4" ry="1.9" fill="#e8bd2a"/>
<ellipse cx="14" cy="573" rx="3.5" ry="1.9" fill="#f0c52e"/>
<ellipse cx="18" cy="585" rx="3.4" ry="1.9" fill="#e8bd2a"/>
<ellipse cx="13" cy="502" rx="0.9" ry="0.6" fill="#f0c52e"/>
<ellipse cx="17" cy="533" rx="3.3" ry="1.9" fill="#f7d548"/>
<ellipse cx="81" cy="567" rx="2.1" ry="1.6" fill="#e8bd2a"/>
<ellipse cx="28" cy="545" rx="2.9" ry="1.8" fill="#f2c934"/>
<ellipse cx="32" cy="523" rx="0.9" ry="0.6" fill="#e8bd2a"/>
<ellipse cx="35" cy="559" rx="2.2" ry="1.6" fill="#f2c934"/>
<ellipse cx="6" cy="551" rx="2.2" ry="1.4" fill="#f0c52e"/>
<ellipse cx="4" cy="607" rx="4.6" ry="3.4" fill="#f0c52e"/>
<ellipse cx="38" cy="503" rx="1.1" ry="0.8" fill="#dcb428"/>
<ellipse cx="61" cy="564" rx="2.0" ry="1.1" fill="#e8bd2a"/>
<ellipse cx="78" cy="600" rx="2.6" ry="1.5" fill="#e8bd2a"/>
<ellipse cx="22" cy="503" rx="1.2" ry="0.7" fill="#dcb428"/>
<ellipse cx="17" cy="622" rx="2.9" ry="1.9" fill="#f0c52e"/>
<ellipse cx="16" cy="595" rx="4.7" ry="2.7" fill="#f2c934"/>
<ellipse cx="52" cy="564" rx="3.1" ry="2.0" fill="#f2c934"/>
<ellipse cx="38" cy="578" rx="3.3" ry="2.1" fill="#f7d548"/>
<ellipse cx="34" cy="547" rx="2.0" ry="1.1" fill="#f7d548"/>
<ellipse cx="65" cy="632" rx="4.4" ry="2.5" fill="#e8bd2a"/>
<ellipse cx="70" cy="662" rx="3.1" ry="1.8" fill="#dcb428"/>
<ellipse cx="7" cy="620" rx="4.5" ry="3.1" fill="#f2c934"/>
<ellipse cx="38" cy="561" rx="1.8" ry="1.0" fill="#e8bd2a"/>
<ellipse cx="16" cy="601" rx="2.9" ry="1.8" fill="#dcb428"/>
<ellipse cx="62" cy="553" rx="2.6" ry="1.6" fill="#f2c934"/>
<ellipse cx="4" cy="616" rx="4.3" ry="2.7" fill="#f7d548"/>
<ellipse cx="13" cy="595" rx="2.5" ry="1.3" fill="#f2c934"/>
<ellipse cx="69" cy="586" rx="3.5" ry="2.4" fill="#f2c934"/>
<ellipse cx="12" cy="626" rx="2.9" ry="1.8" fill="#f7d548"/>
<ellipse cx="19" cy="632" rx="2.7" ry="1.4" fill="#f2c934"/>
<ellipse cx="77" cy="529" rx="2.4" ry="1.6" fill="#f2c934"/>
<ellipse cx="59" cy="565" rx="2.8" ry="1.8" fill="#f2c934"/>
<ellipse cx="3" cy="592" rx="2.9" ry="1.7" fill="#dcb428"/>
<ellipse cx="2" cy="562" rx="1.9" ry="1.4" fill="#dcb428"/>
<ellipse cx="50" cy="553" rx="3.0" ry="2.1" fill="#f0c52e"/>
<ellipse cx="34" cy="558" rx="2.5" ry="1.4" fill="#f0c52e"/>
<ellipse cx="71" cy="509" rx="1.0" ry="0.6" fill="#f0c52e"/>
<ellipse cx="52" cy="534" rx="2.6" ry="1.9" fill="#f7d548"/>
<ellipse cx="25" cy="569" rx="2.6" ry="1.8" fill="#f7d548"/>
<ellipse cx="67" cy="563" rx="2.9" ry="2.0" fill="#f7d548"/>
<ellipse cx="45" cy="539" rx="2.6" ry="1.7" fill="#f2c934"/>
<ellipse cx="61" cy="509" rx="1.3" ry="0.9" fill="#e8bd2a"/>
<ellipse cx="28" cy="543" rx="2.6" ry="1.3" fill="#f7d548"/>
<ellipse cx="30" cy="565" rx="2.7" ry="1.9" fill="#f0c52e"/>
<ellipse cx="17" cy="526" rx="1.5" ry="1.0" fill="#e8bd2a"/>
<ellipse cx="36" cy="549" rx="3.0" ry="1.9" fill="#f0c52e"/>
<ellipse cx="39" cy="557" rx="2.7" ry="1.6" fill="#f7d548"/>
<ellipse cx="63" cy="647" rx="3.0" ry="1.9" fill="#e8bd2a"/>
<ellipse cx="-2" cy="551" rx="2.9" ry="1.8" fill="#f0c52e"/>
<ellipse cx="69" cy="507" rx="0.8" ry="0.5" fill="#e8bd2a"/>
<ellipse cx="43" cy="503" rx="1.3" ry="0.7" fill="#f7d548"/>
<ellipse cx="75" cy="547" rx="2.3" ry="1.4" fill="#e8bd2a"/>
<ellipse cx="36" cy="583" rx="3.4" ry="2.3" fill="#f0c52e"/>
<ellipse cx="20" cy="546" rx="2.8" ry="1.4" fill="#dcb428"/>
<ellipse cx="74" cy="638" rx="3.1" ry="2.3" fill="#f0c52e"/>
<ellipse cx="32" cy="591" rx="2.4" ry="1.4" fill="#f2c934"/>
<ellipse cx="46" cy="589" rx="3.1" ry="1.6" fill="#e8bd2a"/>
<ellipse cx="53" cy="533" rx="2.6" ry="1.5" fill="#f0c52e"/>
<ellipse cx="74" cy="600" rx="4.2" ry="3.1" fill="#f0c52e"/>
<ellipse cx="77" cy="591" rx="3.0" ry="1.7" fill="#e8bd2a"/>
<ellipse cx="60" cy="506" rx="1.4" ry="0.7" fill="#e8bd2a"/>
<ellipse cx="51" cy="567" rx="1.8" ry="1.2" fill="#f7d548"/>
<ellipse cx="74" cy="611" rx="3.0" ry="1.7" fill="#f7d548"/>
<ellipse cx="76" cy="609" rx="4.0" ry="2.6" fill="#dcb428"/>
<ellipse cx="75" cy="550" rx="2.4" ry="1.5" fill="#f2c934"/>
<ellipse cx="41" cy="504" rx="1.5" ry="0.9" fill="#f7d548"/>
<ellipse cx="48" cy="531" rx="2.1" ry="1.4" fill="#e8bd2a"/>
<ellipse cx="34" cy="578" rx="2.8" ry="2.1" fill="#e8bd2a"/>
<ellipse cx="9" cy="524" rx="0.8" ry="0.6" fill="#dcb428"/>
<ellipse cx="8" cy="617" rx="3.3" ry="2.5" fill="#f2c934"/>
<ellipse cx="46" cy="535" rx="2.5" ry="1.5" fill="#f2c934"/>
<ellipse cx="50" cy="525" rx="2.0" ry="1.2" fill="#e8bd2a"/>
<ellipse cx="28" cy="623" rx="2.6" ry="1.5" fill="#f0c52e"/>
<ellipse cx="21" cy="545" rx="2.0" ry="1.4" fill="#f7d548"/>
<ellipse cx="18" cy="546" rx="3.3" ry="1.7" fill="#e8bd2a"/>
<ellipse cx="17" cy="591" rx="2.6" ry="1.8" fill="#f0c52e"/>
<ellipse cx="8" cy="565" rx="2.0" ry="1.4" fill="#f2c934"/>
<ellipse cx="33" cy="594" rx="3.5" ry="2.1" fill="#f7d548"/>
<ellipse cx="18" cy="558" rx="2.1" ry="1.5" fill="#e8bd2a"/>
<ellipse cx="64" cy="526" rx="1.9" ry="1.3" fill="#f7d548"/>
<ellipse cx="23" cy="564" rx="2.9" ry="1.8" fill="#f0c52e"/>
<ellipse cx="13" cy="601" rx="2.6" ry="1.6" fill="#e8bd2a"/>
<ellipse cx="18" cy="539" rx="3.0" ry="2.2" fill="#f2c934"/>
<ellipse cx="51" cy="500" rx="0.8" ry="0.4" fill="#f2c934"/>
<ellipse cx="10" cy="555" rx="2.8" ry="2.0" fill="#f2c934"/>
<ellipse cx="1" cy="588" rx="2.7" ry="1.5" fill="#dcb428"/>
<ellipse cx="36" cy="541" rx="2.5" ry="1.6" fill="#f2c934"/>
<ellipse cx="42" cy="557" rx="1.9" ry="1.4" fill="#f7d548"/>
<ellipse cx="34" cy="593" rx="2.3" ry="1.2" fill="#f7d548"/>
<ellipse cx="10" cy="520" rx="0.9" ry="0.6" fill="#f2c934"/>
<ellipse cx="44" cy="522" rx="0.9" ry="0.7" fill="#f7d548"/>
<ellipse cx="76" cy="553" rx="3.0" ry="1.6" fill="#f2c934"/>
<ellipse cx="79" cy="552" rx="3.2" ry="2.2" fill="#f2c934"/>
<ellipse cx="73" cy="526" rx="1.7" ry="1.0" fill="#f2c934"/>
<ellipse cx="42" cy="544" rx="2.6" ry="1.8" fill="#f0c52e"/>
<ellipse cx="35" cy="516" rx="0.9" ry="0.6" fill="#dcb428"/>
<ellipse cx="68" cy="579" rx="2.0" ry="1.1" fill="#f0c52e"/>
<ellipse cx="31" cy="558" rx="2.3" ry="1.4" fill="#f7d548"/>
<ellipse cx="74" cy="547" rx="1.9" ry="1.0" fill="#f0c52e"/>
<ellipse cx="72" cy="510" rx="1.3" ry="0.7" fill="#f2c934"/>
<ellipse cx="26" cy="576" rx="2.4" ry="1.5" fill="#f7d548"/>
<ellipse cx="22" cy="578" rx="2.9" ry="2.0" fill="#dcb428"/>
<ellipse cx="12" cy="516" rx="1.4" ry="0.9" fill="#f2c934"/>
<ellipse cx="60" cy="612" rx="3.3" ry="2.2" fill="#e8bd2a"/>
<ellipse cx="43" cy="513" rx="1.1" ry="0.6" fill="#f7d548"/>
<ellipse cx="62" cy="610" rx="3.7" ry="2.3" fill="#f0c52e"/>
<ellipse cx="78" cy="628" rx="2.9" ry="1.6" fill="#f0c52e"/>
<ellipse cx="68" cy="633" rx="3.8" ry="2.0" fill="#e8bd2a"/>
<ellipse cx="2" cy="541" rx="2.7" ry="1.8" fill="#dcb428"/>
<ellipse cx="32" cy="651" rx="2.6" ry="1.8" fill="#f7d548"/>
<ellipse cx="79" cy="615" rx="3.7" ry="2.4" fill="#f2c934"/>
<ellipse cx="15" cy="556" rx="2.1" ry="1.1" fill="#e8bd2a"/>
<ellipse cx="25" cy="527" rx="1.9" ry="1.3" fill="#e8bd2a"/>
<ellipse cx="58" cy="630" rx="3.0" ry="1.7" fill="#f2c934"/>
<ellipse cx="59" cy="547" rx="2.3" ry="1.4" fill="#f7d548"/>
<ellipse cx="75" cy="507" rx="1.0" ry="0.7" fill="#f2c934"/>
<ellipse cx="64" cy="517" rx="1.1" ry="0.8" fill="#f7d548"/>
<ellipse cx="39" cy="505" rx="1.0" ry="0.6" fill="#f2c934"/>
<ellipse cx="47" cy="635" rx="3.1" ry="2.1" fill="#f7d548"/>
<ellipse cx="22" cy="542" rx="3.2" ry="2.0" fill="#f7d548"/>
<ellipse cx="38" cy="560" rx="1.8" ry="1.1" fill="#f7d548"/>
<ellipse cx="47" cy="621" rx="2.6" ry="1.6" fill="#e8bd2a"/>
<ellipse cx="-3" cy="534" rx="3.1" ry="2.2" fill="#f7d548"/>
<ellipse cx="78" cy="566" rx="3.2" ry="2.1" fill="#f0c52e"/>
<ellipse cx="3" cy="571" rx="2.2" ry="1.4" fill="#dcb428"/>
<ellipse cx="19" cy="610" rx="3.3" ry="2.0" fill="#dcb428"/>
<ellipse cx="41" cy="519" rx="0.8" ry="0.6" fill="#f0c52e"/>
<ellipse cx="15" cy="538" rx="2.8" ry="1.8" fill="#f7d548"/>
<ellipse cx="52" cy="546" rx="2.0" ry="1.4" fill="#f2c934"/>
<ellipse cx="52" cy="513" rx="0.9" ry="0.6" fill="#f0c52e"/>
<ellipse cx="61" cy="583" rx="2.8" ry="1.9" fill="#f7d548"/>
<ellipse cx="59" cy="519" rx="1.5" ry="0.8" fill="#f2c934"/>
<ellipse cx="67" cy="503" rx="1.3" ry="0.8" fill="#f0c52e"/>
<ellipse cx="43" cy="514" rx="1.1" ry="0.6" fill="#e8bd2a"/>
<ellipse cx="53" cy="616" rx="3.2" ry="1.8" fill="#f2c934"/>
<ellipse cx="48" cy="558" rx="3.0" ry="2.0" fill="#dcb428"/>
<ellipse cx="30" cy="543" rx="1.9" ry="1.1" fill="#dcb428"/>
<ellipse cx="54" cy="594" rx="2.5" ry="1.6" fill="#dcb428"/>
<ellipse cx="72" cy="546" rx="2.6" ry="1.5" fill="#f0c52e"/>
<ellipse cx="81" cy="519" rx="1.1" ry="0.6" fill="#e8bd2a"/>
<ellipse cx="49" cy="599" rx="4.7" ry="3.0" fill="#f7d548"/>
<ellipse cx="4" cy="525" rx="1.9" ry="1.3" fill="#f0c52e"/>
<ellipse cx="18" cy="636" rx="3.9" ry="2.0" fill="#f2c934"/>
<ellipse cx="34" cy="542" rx="1.8" ry="1.1" fill="#f2c934"/>
<ellipse cx="24" cy="526" rx="2.2" ry="1.6" fill="#e8bd2a"/>
<ellipse cx="31" cy="585" rx="2.4" ry="1.7" fill="#f7d548"/>
<ellipse cx="3" cy="563" rx="3.2" ry="1.7" fill="#f2c934"/>
<ellipse cx="1" cy="524" rx="1.2" ry="0.8" fill="#f7d548"/>
<ellipse cx="19" cy="510" rx="1.4" ry="0.8" fill="#f0c52e"/>
<ellipse cx="58" cy="538" rx="3.2" ry="2.4" fill="#e8bd2a"/>
<ellipse cx="73" cy="507" rx="0.8" ry="0.6" fill="#f7d548"/>
<ellipse cx="70" cy="643" rx="4.7" ry="2.6" fill="#e8bd2a"/>
<ellipse cx="4" cy="587" rx="2.7" ry="1.9" fill="#f7d548"/>
<ellipse cx="66" cy="541" rx="2.3" ry="1.3" fill="#dcb428"/>
<ellipse cx="13" cy="578" rx="2.8" ry="1.5" fill="#f7d548"/>
<ellipse cx="31" cy="504" rx="1.5" ry="1.0" fill="#dcb428"/>
<ellipse cx="79" cy="536" rx="2.5" ry="1.6" fill="#f2c934"/>
<ellipse cx="20" cy="500" rx="1.4" ry="1.1" fill="#f0c52e"/>
<ellipse cx="8" cy="548" rx="2.5" ry="1.3" fill="#e8bd2a"/>
<ellipse cx="65" cy="533" rx="1.8" ry="1.3" fill="#dcb428"/>
<ellipse cx="33" cy="519" rx="1.3" ry="1.0" fill="#f7d548"/>
<ellipse cx="19" cy="601" rx="4.1" ry="3.0" fill="#f0c52e"/>
<ellipse cx="37" cy="531" rx="1.8" ry="1.1" fill="#f2c934"/>
<ellipse cx="5" cy="514" rx="0.9" ry="0.5" fill="#e8bd2a"/>
<ellipse cx="-2" cy="555" rx="2.9" ry="1.6" fill="#f2c934"/>
<ellipse cx="45" cy="538" rx="3.2" ry="2.2" fill="#f7d548"/>
<ellipse cx="58" cy="591" rx="2.3" ry="1.5" fill="#e8bd2a"/>
<ellipse cx="45" cy="540" rx="2.2" ry="1.2" fill="#f2c934"/>
<ellipse cx="45" cy="538" rx="2.1" ry="1.4" fill="#dcb428"/>
<ellipse cx="45" cy="551" rx="2.6" ry="1.5" fill="#dcb428"/>
<ellipse cx="-2" cy="558" rx="3.1" ry="2.0" fill="#f0c52e"/>
<ellipse cx="72" cy="635" rx="2.9" ry="2.1" fill="#f0c52e"/>
<ellipse cx="11" cy="630" rx="3.1" ry="1.7" fill="#e8bd2a"/>
<ellipse cx="-3" cy="608" rx="4.2" ry="2.7" fill="#f0c52e"/>
<ellipse cx="41" cy="543" rx="3.2" ry="1.8" fill="#f7d548"/>
<ellipse cx="49" cy="561" rx="1.8" ry="1.2" fill="#f0c52e"/>
<ellipse cx="69" cy="589" rx="2.7" ry="1.9" fill="#e8bd2a"/>
<ellipse cx="11" cy="592" rx="2.4" ry="1.6" fill="#dcb428"/>
<ellipse cx="10" cy="556" rx="3.1" ry="1.6" fill="#f0c52e"/>
<ellipse cx="80" cy="635" rx="3.8" ry="2.3" fill="#e8bd2a"/>
<ellipse cx="43" cy="643" rx="4.0" ry="2.5" fill="#f7d548"/>
<ellipse cx="38" cy="571" rx="2.3" ry="1.4" fill="#f7d548"/>
<ellipse cx="33" cy="536" rx="2.1" ry="1.2" fill="#f2c934"/>
<ellipse cx="19" cy="501" rx="1.1" ry="0.8" fill="#f2c934"/>
<ellipse cx="78" cy="552" rx="2.4" ry="1.5" fill="#f0c52e"/>
<ellipse cx="28" cy="578" rx="3.5" ry="2.2" fill="#e8bd2a"/>
<ellipse cx="1" cy="552" rx="1.9" ry="1.0" fill="#f0c52e"/>
<ellipse cx="18" cy="646" rx="3.1" ry="1.9" fill="#e8bd2a"/>
<ellipse cx="39" cy="526" rx="2.1" ry="1.1" fill="#f2c934"/>
<ellipse cx="5" cy="503" rx="1.4" ry="1.0" fill="#f0c52e"/>
<ellipse cx="63" cy="538" rx="1.9" ry="1.0" fill="#f0c52e"/>
<ellipse cx="68" cy="533" rx="3.0" ry="1.7" fill="#e8bd2a"/>
<ellipse cx="-3" cy="550" rx="2.9" ry="1.8" fill="#f0c52e"/>
<ellipse cx="63" cy="590" rx="2.7" ry="1.5" fill="#f7d548"/>
<ellipse cx="32" cy="597" rx="3.4" ry="2.2" fill="#f2c934"/>
<ellipse cx="8" cy="591" rx="3.1" ry="2.2" fill="#dcb428"/>
<ellipse cx="2" cy="536" rx="2.9" ry="1.6" fill="#f0c52e"/>
<ellipse cx="-3" cy="593" rx="2.8" ry="1.6" fill="#e8bd2a"/>
<ellipse cx="27" cy="530" rx="2.4" ry="1.7" fill="#f0c52e"/>
<ellipse cx="41" cy="596" rx="3.2" ry="2.1" fill="#e8bd2a"/>
<ellipse cx="16" cy="548" rx="3.1" ry="1.8" fill="#f7d548"/>
<ellipse cx="20" cy="531" rx="1.6" ry="1.1" fill="#dcb428"/>
<ellipse cx="63" cy="544" rx="3.1" ry="1.6" fill="#f7d548"/>
<ellipse cx="40" cy="623" rx="4.5" ry="2.7" fill="#dcb428"/>
<ellipse cx="69" cy="590" rx="2.7" ry="1.7" fill="#f7d548"/>
<ellipse cx="43" cy="567" rx="2.1" ry="1.2" fill="#f0c52e"/>
<ellipse cx="8" cy="560" rx="2.8" ry="2.1" fill="#e8bd2a"/>
<ellipse cx="4" cy="515" rx="1.1" ry="0.6" fill="#f7d548"/>
<ellipse cx="24" cy="602" rx="4.2" ry="2.2" fill="#dcb428"/>
<ellipse cx="-3" cy="619" rx="2.7" ry="2.0" fill="#f7d548"/>
<ellipse cx="77" cy="572" rx="2.4" ry="1.8" fill="#f7d548"/>
<ellipse cx="49" cy="560" rx="2.4" ry="1.6" fill="#f7d548"/>
<ellipse cx="40" cy="560" rx="3.0" ry="1.8" fill="#f2c934"/>
<ellipse cx="18" cy="570" rx="2.4" ry="1.3" fill="#f2c934"/>
<ellipse cx="54" cy="503" rx="0.9" ry="0.6" fill="#dcb428"/>
<ellipse cx="23" cy="537" rx="2.9" ry="1.7" fill="#dcb428"/>
<ellipse cx="-4" cy="506" rx="1.5" ry="1.1" fill="#f0c52e"/>
<ellipse cx="59" cy="561" rx="2.5" ry="1.6" fill="#e8bd2a"/>
<ellipse cx="31" cy="526" rx="2.3" ry="1.5" fill="#f2c934"/>
<ellipse cx="76" cy="576" rx="3.4" ry="1.8" fill="#e8bd2a"/>
<ellipse cx="10" cy="541" rx="2.0" ry="1.0" fill="#f2c934"/>
<ellipse cx="59" cy="548" rx="2.9" ry="2.0" fill="#f0c52e"/>
<ellipse cx="1" cy="527" rx="1.4" ry="0.9" fill="#e8bd2a"/>
<ellipse cx="58" cy="515" rx="1.1" ry="0.8" fill="#e8bd2a"/>
<ellipse cx="28" cy="534" rx="2.0" ry="1.2" fill="#f2c934"/>
<ellipse cx="71" cy="555" rx="2.7" ry="1.8" fill="#f0c52e"/>
<ellipse cx="76" cy="585" rx="3.6" ry="2.4" fill="#e8bd2a"/>
<ellipse cx="33" cy="532" rx="2.7" ry="1.7" fill="#f2c934"/>
<ellipse cx="38" cy="571" rx="2.1" ry="1.4" fill="#f0c52e"/>
<ellipse cx="37" cy="558" rx="2.8" ry="1.6" fill="#f0c52e"/>
<ellipse cx="21" cy="550" rx="2.3" ry="1.2" fill="#e8bd2a"/>
<ellipse cx="17" cy="561" rx="2.6" ry="1.6" fill="#f7d548"/>
<ellipse cx="25" cy="611" rx="2.7" ry="1.4" fill="#e8bd2a"/>
<ellipse cx="11" cy="520" rx="1.1" ry="0.6" fill="#f0c52e"/>
<ellipse cx="0" cy="625" rx="2.8" ry="2.0" fill="#e8bd2a"/>
<ellipse cx="16" cy="594" rx="2.2" ry="1.5" fill="#f0c52e"/>
<ellipse cx="55" cy="559" rx="3.0" ry="1.6" fill="#dcb428"/>
<ellipse cx="33" cy="562" rx="2.9" ry="1.7" fill="#f7d548"/>
<ellipse cx="34" cy="525" rx="2.1" ry="1.1" fill="#dcb428"/>
<ellipse cx="15" cy="566" rx="2.5" ry="1.8" fill="#e8bd2a"/>
<ellipse cx="50" cy="594" rx="2.2" ry="1.5" fill="#f0c52e"/>
<ellipse cx="69" cy="532" rx="2.7" ry="1.8" fill="#f7d548"/>
<ellipse cx="43" cy="536" rx="1.9" ry="1.0" fill="#f0c52e"/>
<ellipse cx="36" cy="606" rx="3.2" ry="2.0" fill="#f0c52e"/>
<ellipse cx="29" cy="557" rx="1.9" ry="1.0" fill="#f2c934"/>
<ellipse cx="58" cy="576" rx="3.6" ry="2.2" fill="#f7d548"/>
<ellipse cx="62" cy="556" rx="2.3" ry="1.3" fill="#dcb428"/>
<ellipse cx="32" cy="546" rx="2.5" ry="1.7" fill="#f2c934"/>
<ellipse cx="81" cy="508" rx="1.0" ry="0.7" fill="#e8bd2a"/>
<ellipse cx="47" cy="649" rx="3.1" ry="2.2" fill="#f2c934"/>
<ellipse cx="2" cy="506" rx="0.8" ry="0.5" fill="#f0c52e"/>
<ellipse cx="20" cy="513" rx="1.0" ry="0.6" fill="#f7d548"/>
<ellipse cx="-1" cy="542" rx="2.8" ry="1.4" fill="#f0c52e"/>
<ellipse cx="38" cy="656" rx="2.7" ry="1.8" fill="#e8bd2a"/>
<ellipse cx="42" cy="665" rx="3.1" ry="1.8" fill="#f0c52e"/>
<ellipse cx="58" cy="512" rx="1.0" ry="0.6" fill="#f7d548"/>
<ellipse cx="45" cy="596" rx="2.7" ry="1.9" fill="#f0c52e"/>
<ellipse cx="8" cy="570" rx="2.9" ry="1.6" fill="#f7d548"/>
<ellipse cx="51" cy="567" rx="1.9" ry="1.1" fill="#dcb428"/>
<ellipse cx="6" cy="602" rx="3.7" ry="2.0" fill="#f7d548"/>
<ellipse cx="68" cy="564" rx="2.5" ry="1.4" fill="#f7d548"/>
<ellipse cx="-0" cy="501" rx="1.1" ry="0.8" fill="#f0c52e"/>
<ellipse cx="18" cy="566" rx="1.9" ry="1.2" fill="#f7d548"/>
<ellipse cx="5" cy="501" rx="1.0" ry="0.6" fill="#e8bd2a"/>
<ellipse cx="16" cy="541" rx="3.0" ry="2.0" fill="#f2c934"/>
<ellipse cx="7" cy="528" rx="2.0" ry="1.4" fill="#f2c934"/>
<ellipse cx="-3" cy="501" rx="1.1" ry="0.6" fill="#f7d548"/>
<ellipse cx="44" cy="566" rx="2.7" ry="1.6" fill="#f7d548"/>
<ellipse cx="33" cy="533" rx="3.3" ry="2.2" fill="#f7d548"/>
<ellipse cx="5" cy="543" rx="2.7" ry="1.7" fill="#f2c934"/>
<ellipse cx="80" cy="600" rx="3.0" ry="2.2" fill="#f7d548"/>
<ellipse cx="76" cy="547" rx="2.6" ry="1.6" fill="#f0c52e"/>
<ellipse cx="73" cy="616" rx="3.9" ry="2.2" fill="#f7d548"/>
<ellipse cx="46" cy="529" rx="2.2" ry="1.6" fill="#dcb428"/>
<ellipse cx="63" cy="657" rx="3.8" ry="2.6" fill="#e8bd2a"/>
<ellipse cx="9" cy="511" rx="1.0" ry="0.7" fill="#f0c52e"/>
<ellipse cx="33" cy="634" rx="4.2" ry="2.8" fill="#dcb428"/>
<ellipse cx="60" cy="550" rx="2.5" ry="1.4" fill="#f2c934"/>
<ellipse cx="4" cy="565" rx="1.9" ry="1.4" fill="#f7d548"/>
<ellipse cx="4" cy="647" rx="3.0" ry="1.8" fill="#f2c934"/>
<ellipse cx="50" cy="569" rx="2.0" ry="1.3" fill="#f0c52e"/>
<ellipse cx="64" cy="526" rx="1.7" ry="1.1" fill="#e8bd2a"/>
<ellipse cx="70" cy="543" rx="3.2" ry="2.1" fill="#e8bd2a"/>
<ellipse cx="26" cy="602" rx="3.3" ry="2.1" fill="#f0c52e"/>
<ellipse cx="36" cy="546" rx="2.9" ry="1.9" fill="#f0c52e"/>
<ellipse cx="4" cy="552" rx="2.7" ry="1.8" fill="#f7d548"/>
<ellipse cx="12" cy="556" rx="2.2" ry="1.5" fill="#f0c52e"/>
<ellipse cx="80" cy="598" rx="3.5" ry="2.4" fill="#f2c934"/>
<ellipse cx="-3" cy="584" rx="2.1" ry="1.1" fill="#f7d548"/>
<ellipse cx="47" cy="607" rx="4.2" ry="3.2" fill="#dcb428"/>
<ellipse cx="56" cy="644" rx="4.7" ry="2.8" fill="#f2c934"/>
<ellipse cx="-3" cy="550" rx="2.1" ry="1.4" fill="#f2c934"/>
<ellipse cx="73" cy="515" rx="1.1" ry="0.8" fill="#dcb428"/>
<ellipse cx="60" cy="524" rx="1.3" ry="0.8" fill="#e8bd2a"/>
<ellipse cx="48" cy="637" rx="3.2" ry="2.1" fill="#f2c934"/>
<ellipse cx="64" cy="502" rx="1.0" ry="0.7" fill="#f2c934"/>
<ellipse cx="25" cy="576" rx="3.0" ry="1.6" fill="#e8bd2a"/>
<ellipse cx="61" cy="608" rx="3.6" ry="2.2" fill="#dcb428"/>
<ellipse cx="18" cy="575" rx="3.6" ry="2.2" fill="#f2c934"/>
<ellipse cx="54" cy="529" rx="1.7" ry="1.2" fill="#dcb428"/>
<ellipse cx="16" cy="524" rx="1.9" ry="1.2" fill="#dcb428"/>
<ellipse cx="79" cy="587" rx="2.2" ry="1.5" fill="#f0c52e"/>
<ellipse cx="39" cy="539" rx="2.1" ry="1.3" fill="#f0c52e"/>
<ellipse cx="56" cy="566" rx="1.8" ry="1.1" fill="#f0c52e"/>
<ellipse cx="35" cy="551" rx="2.8" ry="1.8" fill="#dcb428"/>
<ellipse cx="25" cy="568" rx="1.8" ry="1.2" fill="#dcb428"/>
<ellipse cx="48" cy="583" rx="2.2" ry="1.3" fill="#f7d548"/>
<ellipse cx="73" cy="638" rx="4.6" ry="3.1" fill="#f7d548"/>
<ellipse cx="43" cy="539" rx="3.3" ry="2.1" fill="#dcb428"/>
<ellipse cx="4" cy="583" rx="3.0" ry="1.6" fill="#f7d548"/>
<ellipse cx="61" cy="559" rx="2.6" ry="1.4" fill="#dcb428"/>
<ellipse cx="79" cy="522" rx="1.2" ry="0.7" fill="#f7d548"/>
<ellipse cx="1" cy="538" rx="3.0" ry="2.0" fill="#f2c934"/>
<ellipse cx="15" cy="556" rx="2.9" ry="2.1" fill="#e8bd2a"/>
<ellipse cx="14" cy="656" rx="3.2" ry="2.0" fill="#dcb428"/>
<ellipse cx="67" cy="656" rx="3.2" ry="2.0" fill="#dcb428"/>
<ellipse cx="38" cy="644" rx="3.4" ry="2.3" fill="#f2c934"/>
<ellipse cx="72" cy="536" rx="1.8" ry="1.1" fill="#f7d548"/>
<ellipse cx="59" cy="552" rx="2.9" ry="2.1" fill="#f7d548"/>
<ellipse cx="18" cy="546" rx="1.8" ry="1.2" fill="#f2c934"/>
<ellipse cx="36" cy="574" rx="2.7" ry="1.4" fill="#f7d548"/>
<ellipse cx="-3" cy="514" rx="1.3" ry="0.9" fill="#f7d548"/>
<ellipse cx="48" cy="555" rx="3.1" ry="2.1" fill="#f7d548"/>
<ellipse cx="-3" cy="552" rx="2.2" ry="1.5" fill="#e8bd2a"/>
<ellipse cx="39" cy="565" rx="3.2" ry="2.1" fill="#dcb428"/>
<ellipse cx="51" cy="610" rx="4.7" ry="2.4" fill="#dcb428"/>
<ellipse cx="27" cy="574" rx="2.7" ry="1.5" fill="#f2c934"/>
<ellipse cx="12" cy="536" rx="3.0" ry="1.9" fill="#f2c934"/>
<ellipse cx="68" cy="540" rx="2.6" ry="1.9" fill="#dcb428"/>
<ellipse cx="32" cy="626" rx="2.6" ry="1.8" fill="#e8bd2a"/>
<ellipse cx="60" cy="514" rx="1.4" ry="0.8" fill="#e8bd2a"/>
<ellipse cx="64" cy="551" rx="3.2" ry="2.4" fill="#f0c52e"/>
<ellipse cx="71" cy="618" rx="4.7" ry="2.6" fill="#f2c934"/>
<ellipse cx="61" cy="591" rx="2.3" ry="1.6" fill="#f2c934"/>
<ellipse cx="39" cy="529" rx="2.5" ry="1.6" fill="#dcb428"/>
<ellipse cx="42" cy="572" rx="3.5" ry="2.0" fill="#f0c52e"/>
<ellipse cx="46" cy="539" rx="3.0" ry="2.1" fill="#f7d548"/>
<ellipse cx="30" cy="589" rx="3.0" ry="1.8" fill="#f7d548"/>
<ellipse cx="1" cy="553" rx="2.3" ry="1.6" fill="#e8bd2a"/>
<ellipse cx="15" cy="633" rx="3.7" ry="2.7" fill="#f0c52e"/>
<ellipse cx="650" cy="567" rx="2.8" ry="1.8" fill="#f7d548"/>
<ellipse cx="619" cy="518" rx="2.0" ry="1.1" fill="#dcb428"/>
<ellipse cx="591" cy="573" rx="2.2" ry="1.6" fill="#f0c52e"/>
<ellipse cx="659" cy="582" rx="3.0" ry="2.0" fill="#e8bd2a"/>
<ellipse cx="627" cy="508" rx="2.1" ry="1.2" fill="#e8bd2a"/>
<ellipse cx="583" cy="559" rx="2.1" ry="1.5" fill="#f7d548"/>
<ellipse cx="632" cy="518" rx="1.7" ry="1.2" fill="#f2c934"/>
<ellipse cx="583" cy="545" rx="3.0" ry="2.0" fill="#f2c934"/>
<ellipse cx="593" cy="533" rx="2.3" ry="1.2" fill="#f0c52e"/>
<ellipse cx="579" cy="588" rx="2.4" ry="1.4" fill="#dcb428"/>
<ellipse cx="586" cy="554" rx="2.4" ry="1.2" fill="#f7d548"/>
<ellipse cx="609" cy="567" rx="2.0" ry="1.4" fill="#f0c52e"/>
<ellipse cx="598" cy="539" rx="2.9" ry="1.6" fill="#f2c934"/>
<ellipse cx="583" cy="585" rx="2.4" ry="1.4" fill="#f0c52e"/>
<ellipse cx="609" cy="534" rx="2.1" ry="1.6" fill="#f2c934"/>
<ellipse cx="586" cy="520" rx="1.5" ry="0.8" fill="#dcb428"/>
<ellipse cx="594" cy="582" rx="2.7" ry="2.0" fill="#f0c52e"/>
<ellipse cx="611" cy="584" rx="3.2" ry="2.3" fill="#e8bd2a"/>
<ellipse cx="645" cy="531" rx="2.4" ry="1.4" fill="#f2c934"/>
<ellipse cx="651" cy="550" rx="2.7" ry="1.8" fill="#f2c934"/>
<ellipse cx="647" cy="543" rx="2.3" ry="1.5" fill="#dcb428"/>
<ellipse cx="638" cy="533" rx="2.0" ry="1.1" fill="#dcb428"/>
<ellipse cx="592" cy="568" rx="2.7" ry="1.4" fill="#f7d548"/>
<ellipse cx="617" cy="619" rx="2.6" ry="1.5" fill="#f7d548"/>
<ellipse cx="640" cy="565" rx="3.2" ry="2.3" fill="#f7d548"/>
<ellipse cx="581" cy="558" rx="2.1" ry="1.5" fill="#f2c934"/>
<ellipse cx="650" cy="631" rx="3.8" ry="2.9" fill="#e8bd2a"/>
<ellipse cx="584" cy="563" rx="2.1" ry="1.4" fill="#e8bd2a"/>
<ellipse cx="588" cy="647" rx="3.3" ry="1.8" fill="#e8bd2a"/>
<ellipse cx="646" cy="531" rx="1.4" ry="0.8" fill="#f0c52e"/>
<ellipse cx="638" cy="544" rx="3.1" ry="1.9" fill="#f0c52e"/>
<ellipse cx="582" cy="565" rx="2.2" ry="1.6" fill="#f2c934"/>
<ellipse cx="593" cy="568" rx="2.4" ry="1.5" fill="#e8bd2a"/>
<ellipse cx="588" cy="527" rx="2.0" ry="1.1" fill="#f0c52e"/>
<ellipse cx="630" cy="513" rx="1.5" ry="0.8" fill="#f2c934"/>
<ellipse cx="658" cy="532" rx="2.9" ry="1.5" fill="#f0c52e"/>
<ellipse cx="600" cy="507" rx="1.6" ry="1.0" fill="#f0c52e"/>
<ellipse cx="592" cy="568" rx="1.8" ry="1.2" fill="#f2c934"/>
<ellipse cx="614" cy="537" rx="1.9" ry="1.4" fill="#f7d548"/>
<ellipse cx="606" cy="548" rx="2.2" ry="1.5" fill="#f7d548"/>
<ellipse cx="623" cy="586" rx="2.0" ry="1.4" fill="#e8bd2a"/>
<ellipse cx="660" cy="617" rx="2.6" ry="1.4" fill="#f2c934"/>
<ellipse cx="605" cy="561" rx="2.6" ry="1.7" fill="#f2c934"/>
<ellipse cx="661" cy="574" rx="3.1" ry="1.6" fill="#e8bd2a"/>
<ellipse cx="638" cy="558" rx="3.3" ry="1.7" fill="#f2c934"/>
<ellipse cx="650" cy="554" rx="2.1" ry="1.6" fill="#e8bd2a"/>
<ellipse cx="584" cy="541" rx="3.0" ry="2.3" fill="#e8bd2a"/>
<ellipse cx="639" cy="522" rx="1.2" ry="0.6" fill="#f2c934"/>
<ellipse cx="642" cy="604" rx="2.8" ry="2.0" fill="#e8bd2a"/>
<ellipse cx="608" cy="523" rx="1.6" ry="1.0" fill="#dcb428"/>
<ellipse cx="660" cy="565" rx="2.8" ry="1.9" fill="#dcb428"/>
<ellipse cx="624" cy="606" rx="3.0" ry="1.8" fill="#e8bd2a"/>
<ellipse cx="587" cy="533" rx="3.3" ry="2.3" fill="#f2c934"/>
<ellipse cx="592" cy="542" rx="3.0" ry="2.2" fill="#e8bd2a"/>
<ellipse cx="624" cy="579" rx="3.1" ry="2.2" fill="#f0c52e"/>
<ellipse cx="615" cy="574" rx="3.6" ry="1.8" fill="#f7d548"/>
<ellipse cx="583" cy="546" rx="2.5" ry="1.7" fill="#f0c52e"/>
<ellipse cx="637" cy="558" rx="2.5" ry="1.4" fill="#dcb428"/>
<ellipse cx="645" cy="542" rx="1.8" ry="1.0" fill="#f0c52e"/>
<ellipse cx="601" cy="558" rx="2.2" ry="1.4" fill="#f2c934"/>
<ellipse cx="641" cy="510" rx="1.6" ry="0.8" fill="#f0c52e"/>
<ellipse cx="649" cy="565" rx="2.2" ry="1.5" fill="#f0c52e"/>
<ellipse cx="652" cy="582" rx="3.5" ry="2.0" fill="#f7d548"/>
<ellipse cx="655" cy="565" rx="1.8" ry="1.3" fill="#f0c52e"/>
<ellipse cx="585" cy="567" rx="2.7" ry="1.4" fill="#dcb428"/>
<ellipse cx="597" cy="523" rx="1.5" ry="0.9" fill="#dcb428"/>
<ellipse cx="601" cy="536" rx="3.2" ry="1.8" fill="#f7d548"/>
<ellipse cx="590" cy="505" rx="1.8" ry="1.0" fill="#f2c934"/>
<ellipse cx="640" cy="502" rx="1.5" ry="0.8" fill="#e8bd2a"/>
<ellipse cx="579" cy="558" rx="1.9" ry="1.0" fill="#dcb428"/>
<ellipse cx="640" cy="597" rx="3.6" ry="2.0" fill="#dcb428"/>
<ellipse cx="581" cy="578" rx="2.5" ry="1.3" fill="#dcb428"/>
<ellipse cx="610" cy="502" rx="1.6" ry="0.9" fill="#dcb428"/>
<ellipse cx="612" cy="513" rx="2.2" ry="1.4" fill="#f2c934"/>
<ellipse cx="659" cy="635" rx="3.2" ry="1.6" fill="#dcb428"/>
<ellipse cx="645" cy="524" rx="2.1" ry="1.1" fill="#f0c52e"/>
<ellipse cx="638" cy="523" rx="1.4" ry="0.9" fill="#e8bd2a"/>
<ellipse cx="589" cy="512" rx="1.3" ry="0.8" fill="#e8bd2a"/>
<ellipse cx="619" cy="543" rx="2.6" ry="1.4" fill="#e8bd2a"/>
<ellipse cx="604" cy="540" rx="3.1" ry="2.2" fill="#f2c934"/>
<ellipse cx="660" cy="648" rx="4.7" ry="3.1" fill="#e8bd2a"/>
<ellipse cx="584" cy="562" rx="3.1" ry="1.8" fill="#dcb428"/>
<ellipse cx="652" cy="554" rx="2.8" ry="1.5" fill="#f0c52e"/>
<ellipse cx="631" cy="507" rx="1.4" ry="0.9" fill="#e8bd2a"/>
<ellipse cx="642" cy="527" rx="1.6" ry="1.1" fill="#dcb428"/>
<ellipse cx="622" cy="572" rx="3.6" ry="1.9" fill="#e8bd2a"/>
<ellipse cx="607" cy="650" rx="4.0" ry="2.6" fill="#dcb428"/>
<ellipse cx="645" cy="590" rx="2.4" ry="1.3" fill="#f2c934"/>
<ellipse cx="597" cy="591" rx="2.9" ry="1.7" fill="#e8bd2a"/>
<ellipse cx="603" cy="526" rx="1.4" ry="0.7" fill="#f7d548"/>
<ellipse cx="584" cy="505" rx="1.7" ry="1.1" fill="#f0c52e"/>
<ellipse cx="625" cy="591" rx="2.4" ry="1.3" fill="#f2c934"/>
<ellipse cx="633" cy="559" rx="3.2" ry="2.1" fill="#f0c52e"/>
<ellipse cx="625" cy="548" rx="2.3" ry="1.6" fill="#f0c52e"/>
<ellipse cx="612" cy="567" rx="3.3" ry="2.2" fill="#f7d548"/>
<ellipse cx="613" cy="570" rx="2.1" ry="1.6" fill="#f0c52e"/>
<ellipse cx="622" cy="567" rx="2.6" ry="1.7" fill="#f0c52e"/>
<ellipse cx="628" cy="514" rx="2.0" ry="1.1" fill="#f2c934"/>
<ellipse cx="618" cy="526" rx="2.2" ry="1.6" fill="#f2c934"/>
<ellipse cx="614" cy="658" rx="3.1" ry="1.9" fill="#f7d548"/>
<ellipse cx="659" cy="516" rx="1.4" ry="0.7" fill="#f2c934"/>
<ellipse cx="641" cy="522" rx="2.2" ry="1.2" fill="#dcb428"/>
<ellipse cx="653" cy="559" rx="2.5" ry="1.8" fill="#f0c52e"/>
<ellipse cx="619" cy="516" rx="2.0" ry="1.5" fill="#dcb428"/>
<ellipse cx="620" cy="604" rx="3.9" ry="2.6" fill="#f7d548"/>
<ellipse cx="649" cy="538" rx="2.9" ry="1.9" fill="#dcb428"/>
<ellipse cx="604" cy="651" rx="2.9" ry="1.8" fill="#dcb428"/>
<ellipse cx="594" cy="665" rx="3.6" ry="2.1" fill="#f2c934"/>
<ellipse cx="659" cy="562" rx="2.3" ry="1.6" fill="#e8bd2a"/>
<ellipse cx="596" cy="557" rx="2.3" ry="1.3" fill="#f2c934"/>
<ellipse cx="647" cy="539" rx="2.9" ry="1.7" fill="#e8bd2a"/>
<ellipse cx="586" cy="589" rx="3.2" ry="2.2" fill="#f0c52e"/>
<ellipse cx="618" cy="536" rx="2.4" ry="1.3" fill="#e8bd2a"/>
<ellipse cx="633" cy="541" rx="2.4" ry="1.6" fill="#f7d548"/>
<ellipse cx="643" cy="551" rx="2.0" ry="1.2" fill="#e8bd2a"/>
<ellipse cx="624" cy="545" rx="2.5" ry="1.9" fill="#dcb428"/>
<ellipse cx="598" cy="507" rx="1.4" ry="0.9" fill="#f7d548"/>
<ellipse cx="635" cy="547" rx="2.2" ry="1.6" fill="#dcb428"/>
<ellipse cx="628" cy="536" rx="2.2" ry="1.6" fill="#f7d548"/>
<ellipse cx="594" cy="593" rx="3.2" ry="2.2" fill="#e8bd2a"/>
<ellipse cx="584" cy="521" rx="1.9" ry="1.4" fill="#f0c52e"/>
<ellipse cx="640" cy="535" rx="2.6" ry="1.9" fill="#dcb428"/>
<ellipse cx="610" cy="576" rx="3.3" ry="1.7" fill="#dcb428"/>
<ellipse cx="599" cy="538" rx="2.3" ry="1.7" fill="#f7d548"/>
<ellipse cx="648" cy="567" rx="2.7" ry="1.6" fill="#dcb428"/>
<ellipse cx="618" cy="557" rx="3.1" ry="1.7" fill="#f2c934"/>
<ellipse cx="652" cy="542" rx="2.6" ry="1.6" fill="#f2c934"/>
<ellipse cx="620" cy="526" rx="1.9" ry="1.0" fill="#dcb428"/>
<ellipse cx="604" cy="559" rx="3.1" ry="2.0" fill="#f0c52e"/>
<ellipse cx="590" cy="525" rx="2.0" ry="1.1" fill="#dcb428"/>
<ellipse cx="583" cy="577" rx="2.6" ry="1.4" fill="#e8bd2a"/>
<ellipse cx="623" cy="588" rx="3.1" ry="1.8" fill="#f7d548"/>
<ellipse cx="648" cy="567" rx="2.9" ry="1.8" fill="#f7d548"/>
<ellipse cx="630" cy="549" rx="2.4" ry="1.3" fill="#f2c934"/>
<ellipse cx="627" cy="513" rx="2.1" ry="1.4" fill="#f7d548"/>
<ellipse cx="594" cy="505" rx="2.1" ry="1.6" fill="#f7d548"/>
<ellipse cx="596" cy="514" rx="1.6" ry="1.0" fill="#f0c52e"/>
<ellipse cx="652" cy="541" rx="2.5" ry="1.4" fill="#f0c52e"/>
<ellipse cx="640" cy="568" rx="1.8" ry="1.3" fill="#f2c934"/>
<ellipse cx="642" cy="584" rx="2.9" ry="1.7" fill="#f0c52e"/>
<ellipse cx="589" cy="543" rx="2.7" ry="2.0" fill="#dcb428"/>
<ellipse cx="623" cy="587" rx="3.0" ry="1.9" fill="#f7d548"/>
<ellipse cx="582" cy="651" rx="3.3" ry="2.3" fill="#e8bd2a"/>
<ellipse cx="657" cy="508" rx="1.8" ry="1.4" fill="#f0c52e"/>
<ellipse cx="610" cy="538" rx="2.3" ry="1.2" fill="#dcb428"/>
<ellipse cx="658" cy="529" rx="2.2" ry="1.4" fill="#f7d548"/>
<ellipse cx="604" cy="560" rx="3.1" ry="1.6" fill="#f0c52e"/>
<ellipse cx="599" cy="544" rx="2.4" ry="1.6" fill="#f0c52e"/>
<ellipse cx="656" cy="508" rx="1.4" ry="1.0" fill="#f0c52e"/>
<ellipse cx="641" cy="528" rx="2.0" ry="1.1" fill="#f2c934"/>
<ellipse cx="592" cy="543" rx="2.3" ry="1.5" fill="#f7d548"/>
<ellipse cx="657" cy="545" rx="3.2" ry="1.9" fill="#f0c52e"/>
<ellipse cx="606" cy="525" rx="2.0" ry="1.1" fill="#dcb428"/>
<ellipse cx="629" cy="559" rx="2.4" ry="1.7" fill="#e8bd2a"/>
<ellipse cx="602" cy="511" rx="1.9" ry="1.1" fill="#e8bd2a"/>
<ellipse cx="616" cy="526" rx="1.8" ry="1.0" fill="#f0c52e"/>
<ellipse cx="609" cy="545" rx="2.5" ry="1.6" fill="#f7d548"/>
<ellipse cx="604" cy="582" rx="2.9" ry="1.8" fill="#e8bd2a"/>
<ellipse cx="584" cy="543" rx="2.8" ry="2.1" fill="#dcb428"/>
<ellipse cx="583" cy="635" rx="2.9" ry="1.7" fill="#f7d548"/>
<ellipse cx="651" cy="565" rx="2.5" ry="1.7" fill="#f7d548"/>
<ellipse cx="594" cy="590" rx="3.6" ry="2.4" fill="#e8bd2a"/>
<ellipse cx="626" cy="591" rx="2.2" ry="1.3" fill="#dcb428"/>
<ellipse cx="621" cy="523" rx="2.1" ry="1.6" fill="#dcb428"/>
<ellipse cx="636" cy="523" rx="2.0" ry="1.1" fill="#e8bd2a"/>
<ellipse cx="641" cy="527" rx="1.9" ry="1.0" fill="#e8bd2a"/>
<ellipse cx="585" cy="548" rx="2.9" ry="1.5" fill="#dcb428"/>
<ellipse cx="657" cy="563" rx="2.2" ry="1.3" fill="#e8bd2a"/>
<ellipse cx="629" cy="532" rx="2.0" ry="1.4" fill="#f7d548"/>
<ellipse cx="599" cy="554" rx="3.2" ry="2.1" fill="#dcb428"/>
<ellipse cx="633" cy="521" rx="2.1" ry="1.1" fill="#f0c52e"/>
<ellipse cx="599" cy="588" rx="2.3" ry="1.5" fill="#e8bd2a"/>
<ellipse cx="641" cy="518" rx="2.0" ry="1.1" fill="#dcb428"/>
<ellipse cx="623" cy="533" rx="2.0" ry="1.3" fill="#e8bd2a"/>
<ellipse cx="609" cy="577" rx="2.0" ry="1.0" fill="#dcb428"/>
<ellipse cx="617" cy="560" rx="2.7" ry="1.8" fill="#f7d548"/>
<ellipse cx="624" cy="542" rx="2.1" ry="1.4" fill="#f0c52e"/>
<ellipse cx="655" cy="512" rx="1.2" ry="0.7" fill="#f7d548"/>
<ellipse cx="651" cy="522" rx="1.3" ry="0.9" fill="#f7d548"/>
<ellipse cx="591" cy="564" rx="2.6" ry="1.4" fill="#f2c934"/>
<ellipse cx="638" cy="508" rx="2.1" ry="1.2" fill="#dcb428"/>
<ellipse cx="649" cy="525" rx="1.7" ry="1.3" fill="#dcb428"/>
<ellipse cx="657" cy="560" rx="2.7" ry="2.0" fill="#f2c934"/>
<ellipse cx="645" cy="530" rx="1.5" ry="1.1" fill="#f0c52e"/>
<ellipse cx="608" cy="601" rx="3.4" ry="1.8" fill="#e8bd2a"/>
<ellipse cx="640" cy="548" rx="1.8" ry="1.2" fill="#f7d548"/>
<ellipse cx="602" cy="641" rx="4.2" ry="3.0" fill="#f0c52e"/>
<ellipse cx="619" cy="519" rx="1.6" ry="1.1" fill="#dcb428"/>
<ellipse cx="599" cy="520" rx="1.4" ry="1.0" fill="#f7d548"/>
<ellipse cx="657" cy="516" rx="1.3" ry="0.9" fill="#f2c934"/>
<ellipse cx="582" cy="559" rx="2.8" ry="1.5" fill="#e8bd2a"/>
<ellipse cx="607" cy="548" rx="2.4" ry="1.8" fill="#dcb428"/>
<ellipse cx="589" cy="563" rx="2.1" ry="1.4" fill="#f2c934"/>
<ellipse cx="617" cy="582" rx="3.5" ry="2.0" fill="#dcb428"/>
<ellipse cx="648" cy="510" rx="1.9" ry="1.1" fill="#f7d548"/>
<ellipse cx="641" cy="564" rx="2.1" ry="1.4" fill="#f2c934"/>
<ellipse cx="651" cy="562" rx="2.9" ry="1.9" fill="#dcb428"/>
<ellipse cx="642" cy="523" rx="1.3" ry="0.8" fill="#f7d548"/>
<ellipse cx="650" cy="531" rx="1.7" ry="1.1" fill="#f0c52e"/>
<ellipse cx="611" cy="550" rx="2.2" ry="1.2" fill="#f2c934"/>
<ellipse cx="579" cy="554" rx="2.3" ry="1.6" fill="#f7d548"/>
<ellipse cx="618" cy="512" rx="1.5" ry="1.0" fill="#f0c52e"/>
<ellipse cx="631" cy="558" rx="2.6" ry="1.8" fill="#dcb428"/>
<ellipse cx="590" cy="525" rx="1.5" ry="0.8" fill="#f7d548"/>
<ellipse cx="644" cy="595" rx="2.6" ry="1.4" fill="#e8bd2a"/>
<ellipse cx="631" cy="507" rx="1.2" ry="0.8" fill="#e8bd2a"/>
<ellipse cx="604" cy="568" rx="2.7" ry="1.8" fill="#f0c52e"/>
<ellipse cx="642" cy="579" rx="2.4" ry="1.2" fill="#f0c52e"/>
<ellipse cx="611" cy="629" rx="3.8" ry="2.3" fill="#f2c934"/>
<ellipse cx="646" cy="517" rx="2.1" ry="1.1" fill="#dcb428"/>
<ellipse cx="622" cy="530" rx="1.6" ry="1.0" fill="#f7d548"/>
<ellipse cx="606" cy="551" rx="2.5" ry="1.6" fill="#e8bd2a"/>
<ellipse cx="660" cy="612" rx="4.5" ry="2.7" fill="#f0c52e"/>
<ellipse cx="615" cy="556" rx="2.4" ry="1.5" fill="#e8bd2a"/>
<ellipse cx="655" cy="561" rx="2.8" ry="1.6" fill="#dcb428"/>
<ellipse cx="595" cy="658" rx="4.6" ry="2.8" fill="#dcb428"/>
<ellipse cx="638" cy="534" rx="2.5" ry="1.6" fill="#e8bd2a"/>
<ellipse cx="596" cy="563" rx="2.2" ry="1.5" fill="#dcb428"/>
<ellipse cx="638" cy="537" rx="2.9" ry="1.9" fill="#f0c52e"/>
<ellipse cx="613" cy="587" rx="3.1" ry="2.0" fill="#e8bd2a"/>
<ellipse cx="582" cy="507" rx="1.7" ry="1.0" fill="#f0c52e"/>
<ellipse cx="588" cy="579" rx="3.3" ry="1.9" fill="#f7d548"/>
<ellipse cx="585" cy="547" rx="3.0" ry="1.9" fill="#dcb428"/>
<ellipse cx="597" cy="653" rx="4.4" ry="2.3" fill="#f7d548"/>
<ellipse cx="587" cy="538" rx="3.0" ry="1.6" fill="#e8bd2a"/>
<ellipse cx="645" cy="540" rx="2.6" ry="1.8" fill="#dcb428"/>
<ellipse cx="593" cy="536" rx="3.2" ry="1.9" fill="#e8bd2a"/>
<ellipse cx="618" cy="584" rx="2.0" ry="1.3" fill="#f7d548"/>
<ellipse cx="601" cy="543" rx="2.3" ry="1.7" fill="#f0c52e"/>
<ellipse cx="649" cy="533" rx="2.7" ry="2.0" fill="#f2c934"/>
<ellipse cx="656" cy="514" rx="1.8" ry="1.2" fill="#dcb428"/>
<ellipse cx="644" cy="594" rx="3.5" ry="2.1" fill="#f2c934"/>
<ellipse cx="636" cy="593" rx="2.3" ry="1.4" fill="#f0c52e"/>
<ellipse cx="655" cy="552" rx="3.2" ry="2.0" fill="#f7d548"/>
<ellipse cx="632" cy="503" rx="1.3" ry="0.7" fill="#f0c52e"/>
<ellipse cx="633" cy="536" rx="2.8" ry="2.0" fill="#f0c52e"/>
<ellipse cx="585" cy="562" rx="2.1" ry="1.1" fill="#f0c52e"/>
<ellipse cx="637" cy="559" rx="1.9" ry="1.4" fill="#e8bd2a"/>
<ellipse cx="626" cy="534" rx="2.3" ry="1.6" fill="#f7d548"/>
<ellipse cx="645" cy="623" rx="3.2" ry="1.8" fill="#f2c934"/>
<ellipse cx="601" cy="565" rx="2.9" ry="1.5" fill="#dcb428"/>
<ellipse cx="647" cy="562" rx="2.8" ry="2.1" fill="#f7d548"/>
<ellipse cx="646" cy="537" rx="2.3" ry="1.2" fill="#f0c52e"/>
<ellipse cx="627" cy="559" rx="2.7" ry="1.9" fill="#f7d548"/>
<ellipse cx="642" cy="564" rx="2.4" ry="1.4" fill="#f7d548"/>
<ellipse cx="627" cy="543" rx="2.7" ry="1.9" fill="#f2c934"/>
<ellipse cx="632" cy="636" rx="4.4" ry="3.2" fill="#e8bd2a"/>
<ellipse cx="641" cy="507" rx="1.2" ry="0.7" fill="#dcb428"/>
<ellipse cx="654" cy="525" rx="2.3" ry="1.5" fill="#f2c934"/>
<ellipse cx="611" cy="660" rx="3.6" ry="2.7" fill="#f7d548"/>
<ellipse cx="656" cy="565" rx="3.1" ry="2.2" fill="#f0c52e"/>
<ellipse cx="610" cy="590" rx="2.3" ry="1.3" fill="#e8bd2a"/>
<ellipse cx="617" cy="567" rx="3.1" ry="1.9" fill="#f2c934"/>
<ellipse cx="594" cy="555" rx="1.9" ry="1.0" fill="#f7d548"/>
<ellipse cx="612" cy="517" rx="1.5" ry="1.0" fill="#f7d548"/>
<ellipse cx="616" cy="580" rx="2.0" ry="1.3" fill="#f2c934"/>
<ellipse cx="638" cy="508" rx="2.0" ry="1.5" fill="#f2c934"/>
<ellipse cx="597" cy="504" rx="2.0" ry="1.5" fill="#f2c934"/>
<ellipse cx="591" cy="570" rx="3.6" ry="2.3" fill="#f7d548"/>
<ellipse cx="634" cy="536" rx="2.8" ry="1.5" fill="#f2c934"/>
<ellipse cx="612" cy="558" rx="3.2" ry="1.8" fill="#dcb428"/>
<ellipse cx="647" cy="550" rx="3.2" ry="1.8" fill="#f2c934"/>
<ellipse cx="634" cy="564" rx="2.3" ry="1.3" fill="#f2c934"/>
<ellipse cx="637" cy="506" rx="1.9" ry="1.4" fill="#f2c934"/>
<ellipse cx="648" cy="583" rx="2.8" ry="2.1" fill="#f7d548"/>
<ellipse cx="599" cy="609" rx="4.3" ry="2.5" fill="#f0c52e"/>
<ellipse cx="654" cy="563" rx="3.1" ry="2.3" fill="#dcb428"/>
<ellipse cx="638" cy="647" rx="4.5" ry="2.6" fill="#f2c934"/>
<ellipse cx="587" cy="538" rx="2.6" ry="1.3" fill="#f0c52e"/>
<ellipse cx="617" cy="504" rx="1.8" ry="1.0" fill="#f7d548"/>
<ellipse cx="582" cy="550" rx="1.8" ry="1.2" fill="#f2c934"/>
<ellipse cx="639" cy="546" rx="2.5" ry="1.3" fill="#dcb428"/>
<ellipse cx="588" cy="577" rx="3.2" ry="2.3" fill="#e8bd2a"/>
<ellipse cx="639" cy="513" rx="1.6" ry="1.0" fill="#f2c934"/>
<ellipse cx="639" cy="510" rx="1.3" ry="0.9" fill="#f7d548"/>
<ellipse cx="651" cy="539" rx="2.0" ry="1.4" fill="#f2c934"/>
<ellipse cx="608" cy="588" rx="3.4" ry="2.1" fill="#dcb428"/>
<ellipse cx="628" cy="544" rx="3.3" ry="2.4" fill="#f7d548"/>
<ellipse cx="594" cy="511" rx="1.4" ry="0.8" fill="#f2c934"/>
<ellipse cx="623" cy="607" rx="4.4" ry="2.5" fill="#f7d548"/>
<ellipse cx="590" cy="556" rx="3.0" ry="2.2" fill="#f0c52e"/>
<ellipse cx="616" cy="645" rx="3.1" ry="1.9" fill="#dcb428"/>
<ellipse cx="632" cy="654" rx="3.7" ry="2.0" fill="#dcb428"/>
<ellipse cx="603" cy="566" rx="2.6" ry="1.9" fill="#f0c52e"/>
<ellipse cx="588" cy="504" rx="2.2" ry="1.6" fill="#dcb428"/>
<ellipse cx="598" cy="561" rx="2.4" ry="1.7" fill="#f2c934"/>
<ellipse cx="619" cy="534" rx="1.9" ry="1.4" fill="#dcb428"/>
<ellipse cx="597" cy="575" rx="2.3" ry="1.3" fill="#dcb428"/>
<ellipse cx="590" cy="516" rx="2.0" ry="1.3" fill="#dcb428"/>
<ellipse cx="630" cy="507" rx="2.0" ry="1.1" fill="#f2c934"/>
<ellipse cx="616" cy="621" rx="4.6" ry="3.4" fill="#f2c934"/>
<ellipse cx="620" cy="570" rx="2.0" ry="1.2" fill="#f7d548"/>
<ellipse cx="579" cy="578" rx="3.3" ry="1.7" fill="#f2c934"/>
<ellipse cx="658" cy="593" rx="3.3" ry="1.8" fill="#f7d548"/>
<ellipse cx="636" cy="561" rx="2.4" ry="1.7" fill="#f7d548"/>
<ellipse cx="633" cy="523" rx="1.8" ry="1.3" fill="#f7d548"/>
<ellipse cx="606" cy="584" rx="3.2" ry="2.2" fill="#f0c52e"/>
<ellipse cx="608" cy="521" rx="2.2" ry="1.1" fill="#f0c52e"/>
<ellipse cx="655" cy="571" rx="2.6" ry="1.7" fill="#e8bd2a"/>
<ellipse cx="596" cy="569" rx="2.2" ry="1.3" fill="#dcb428"/>
<ellipse cx="590" cy="558" rx="2.0" ry="1.1" fill="#dcb428"/>
<ellipse cx="646" cy="598" rx="2.9" ry="2.0" fill="#f7d548"/>
<ellipse cx="638" cy="552" rx="1.9" ry="1.3" fill="#dcb428"/>
<ellipse cx="590" cy="540" rx="2.6" ry="1.9" fill="#e8bd2a"/>
<ellipse cx="615" cy="541" rx="2.5" ry="1.7" fill="#dcb428"/>
<ellipse cx="588" cy="589" rx="2.0" ry="1.4" fill="#f0c52e"/>
<ellipse cx="588" cy="534" rx="3.0" ry="1.7" fill="#dcb428"/>
<ellipse cx="609" cy="540" rx="2.8" ry="1.8" fill="#e8bd2a"/>
<ellipse cx="597" cy="583" rx="2.3" ry="1.2" fill="#e8bd2a"/>
<ellipse cx="587" cy="552" rx="1.9" ry="1.2" fill="#f0c52e"/>
<ellipse cx="595" cy="528" rx="1.4" ry="0.9" fill="#dcb428"/>
<ellipse cx="650" cy="594" rx="3.6" ry="2.6" fill="#e8bd2a"/>
<ellipse cx="617" cy="541" rx="2.1" ry="1.2" fill="#dcb428"/>
<ellipse cx="624" cy="546" rx="1.9" ry="1.4" fill="#f2c934"/>
<ellipse cx="609" cy="565" rx="2.7" ry="1.9" fill="#f7d548"/>
<ellipse cx="596" cy="603" rx="4.2" ry="3.1" fill="#f2c934"/>
<ellipse cx="616" cy="640" rx="4.8" ry="3.1" fill="#e8bd2a"/>
<ellipse cx="595" cy="538" rx="2.4" ry="1.7" fill="#e8bd2a"/>
<ellipse cx="650" cy="527" rx="1.4" ry="1.0" fill="#dcb428"/>
<ellipse cx="649" cy="628" rx="4.4" ry="2.7" fill="#f2c934"/>
<ellipse cx="638" cy="554" rx="2.9" ry="2.1" fill="#f0c52e"/>
<ellipse cx="602" cy="591" rx="1.9" ry="1.2" fill="#f2c934"/>
<ellipse cx="617" cy="641" rx="3.0" ry="1.8" fill="#f2c934"/>
<ellipse cx="626" cy="549" rx="3.1" ry="2.2" fill="#f0c52e"/>
<ellipse cx="595" cy="556" rx="2.3" ry="1.6" fill="#dcb428"/>
<ellipse cx="632" cy="511" rx="1.4" ry="0.8" fill="#f7d548"/>
<ellipse cx="658" cy="594" rx="2.5" ry="1.3" fill="#f2c934"/>
<ellipse cx="614" cy="559" rx="2.7" ry="1.4" fill="#dcb428"/>
<ellipse cx="587" cy="512" rx="1.4" ry="0.8" fill="#dcb428"/>
<ellipse cx="588" cy="533" rx="2.2" ry="1.2" fill="#f2c934"/>
<ellipse cx="602" cy="581" rx="2.3" ry="1.2" fill="#dcb428"/>
<ellipse cx="631" cy="522" rx="1.3" ry="0.8" fill="#f7d548"/>
<ellipse cx="582" cy="558" rx="1.9" ry="1.2" fill="#f0c52e"/>
<ellipse cx="652" cy="504" rx="1.4" ry="0.8" fill="#f2c934"/>
<ellipse cx="597" cy="505" rx="2.0" ry="1.4" fill="#f7d548"/>
<ellipse cx="608" cy="521" rx="1.3" ry="0.9" fill="#f0c52e"/>
<ellipse cx="604" cy="533" rx="2.6" ry="1.8" fill="#f7d548"/>
<ellipse cx="643" cy="550" rx="2.5" ry="1.7" fill="#f7d548"/>
<ellipse cx="620" cy="586" rx="3.1" ry="2.0" fill="#f7d548"/>
<ellipse cx="598" cy="554" rx="2.0" ry="1.3" fill="#f2c934"/>
<ellipse cx="607" cy="630" rx="3.1" ry="1.8" fill="#f2c934"/>
<ellipse cx="582" cy="560" rx="2.2" ry="1.1" fill="#e8bd2a"/>
<ellipse cx="631" cy="523" rx="1.9" ry="1.4" fill="#f0c52e"/>
<ellipse cx="655" cy="558" rx="2.8" ry="1.7" fill="#f2c934"/>
<ellipse cx="642" cy="531" rx="2.1" ry="1.1" fill="#f2c934"/>
<ellipse cx="611" cy="520" rx="2.2" ry="1.3" fill="#e8bd2a"/>
<ellipse cx="581" cy="568" rx="2.0" ry="1.2" fill="#dcb428"/>
<ellipse cx="603" cy="527" rx="1.4" ry="1.0" fill="#f2c934"/>
<ellipse cx="604" cy="566" rx="2.1" ry="1.2" fill="#f7d548"/>
<ellipse cx="583" cy="560" rx="2.0" ry="1.4" fill="#dcb428"/>
<ellipse cx="587" cy="577" rx="2.7" ry="2.0" fill="#e8bd2a"/>
<ellipse cx="613" cy="556" rx="1.9" ry="1.1" fill="#f7d548"/>
<ellipse cx="600" cy="592" rx="2.3" ry="1.5" fill="#dcb428"/>
<ellipse cx="618" cy="576" rx="2.9" ry="1.7" fill="#f7d548"/>
<ellipse cx="589" cy="550" rx="1.9" ry="1.2" fill="#f0c52e"/>
<ellipse cx="637" cy="530" rx="1.5" ry="0.8" fill="#dcb428"/>
<ellipse cx="595" cy="506" rx="1.6" ry="1.0" fill="#dcb428"/>
<ellipse cx="602" cy="542" rx="2.3" ry="1.5" fill="#f7d548"/>
<ellipse cx="641" cy="604" rx="3.5" ry="2.1" fill="#f2c934"/>
<ellipse cx="621" cy="570" rx="2.7" ry="1.4" fill="#f7d548"/>
<ellipse cx="598" cy="598" rx="4.6" ry="2.4" fill="#dcb428"/>
<ellipse cx="627" cy="545" rx="3.0" ry="2.0" fill="#f7d548"/>
<ellipse cx="658" cy="567" rx="2.3" ry="1.2" fill="#e8bd2a"/>
<ellipse cx="605" cy="622" rx="3.6" ry="2.7" fill="#e8bd2a"/>
<ellipse cx="660" cy="579" rx="3.4" ry="2.5" fill="#f7d548"/>
<ellipse cx="593" cy="506" rx="1.6" ry="0.9" fill="#e8bd2a"/>
<ellipse cx="651" cy="512" rx="1.8" ry="1.3" fill="#f2c934"/>
<ellipse cx="611" cy="584" rx="2.7" ry="1.9" fill="#f7d548"/>
<ellipse cx="661" cy="501" rx="1.6" ry="0.9" fill="#f2c934"/>
<ellipse cx="653" cy="514" rx="1.9" ry="1.1" fill="#f0c52e"/>
<ellipse cx="628" cy="565" rx="2.5" ry="1.8" fill="#f2c934"/>
<ellipse cx="583" cy="543" rx="2.2" ry="1.6" fill="#f2c934"/>
<ellipse cx="645" cy="517" rx="1.9" ry="1.1" fill="#f2c934"/>
<ellipse cx="630" cy="522" rx="1.3" ry="0.7" fill="#dcb428"/>
<ellipse cx="601" cy="549" rx="2.6" ry="1.8" fill="#f2c934"/>
<ellipse cx="636" cy="561" rx="1.9" ry="1.1" fill="#f0c52e"/>
<ellipse cx="650" cy="597" rx="4.8" ry="2.9" fill="#e8bd2a"/>
<ellipse cx="652" cy="564" rx="1.8" ry="1.1" fill="#f2c934"/>
<ellipse cx="644" cy="535" rx="2.0" ry="1.4" fill="#f2c934"/>
<ellipse cx="648" cy="558" rx="2.0" ry="1.0" fill="#e8bd2a"/>
<ellipse cx="629" cy="650" rx="2.6" ry="1.5" fill="#f0c52e"/>
<ellipse cx="597" cy="563" rx="1.8" ry="1.3" fill="#dcb428"/>
<ellipse cx="615" cy="539" rx="2.5" ry="1.5" fill="#f2c934"/>
<ellipse cx="614" cy="505" rx="2.0" ry="1.2" fill="#f0c52e"/>
<ellipse cx="622" cy="547" rx="2.4" ry="1.8" fill="#f7d548"/>
<ellipse cx="604" cy="563" rx="2.2" ry="1.6" fill="#f2c934"/>
<ellipse cx="614" cy="560" rx="3.1" ry="1.6" fill="#dcb428"/>
<ellipse cx="590" cy="572" rx="2.0" ry="1.0" fill="#f2c934"/>
<ellipse cx="631" cy="556" rx="2.2" ry="1.2" fill="#e8bd2a"/>
<ellipse cx="648" cy="538" rx="2.1" ry="1.3" fill="#dcb428"/>
<ellipse cx="588" cy="513" rx="1.4" ry="0.7" fill="#f7d548"/>
<ellipse cx="599" cy="588" rx="2.8" ry="1.6" fill="#dcb428"/>
<ellipse cx="594" cy="536" rx="2.0" ry="1.3" fill="#f7d548"/>
<ellipse cx="588" cy="537" rx="1.8" ry="1.3" fill="#f0c52e"/>
<ellipse cx="623" cy="523" rx="2.2" ry="1.2" fill="#dcb428"/>
<ellipse cx="653" cy="501" rx="1.8" ry="0.9" fill="#f2c934"/>
<ellipse cx="597" cy="584" rx="3.1" ry="2.3" fill="#e8bd2a"/>
<ellipse cx="648" cy="561" rx="3.0" ry="1.7" fill="#f2c934"/>
<ellipse cx="656" cy="582" rx="2.0" ry="1.1" fill="#f0c52e"/>
<ellipse cx="658" cy="577" rx="3.1" ry="1.8" fill="#dcb428"/>
<ellipse cx="660" cy="502" rx="2.0" ry="1.4" fill="#e8bd2a"/>
<ellipse cx="589" cy="533" rx="2.1" ry="1.4" fill="#dcb428"/>
<ellipse cx="659" cy="546" rx="2.4" ry="1.7" fill="#f2c934"/>
<ellipse cx="644" cy="571" rx="2.3" ry="1.7" fill="#f0c52e"/>
<ellipse cx="634" cy="589" rx="3.3" ry="1.7" fill="#f2c934"/>
<ellipse cx="641" cy="539" rx="2.3" ry="1.7" fill="#f2c934"/>
<ellipse cx="592" cy="590" rx="2.9" ry="1.8" fill="#e8bd2a"/>
<ellipse cx="648" cy="516" rx="1.5" ry="0.9" fill="#f0c52e"/>
<ellipse cx="617" cy="535" rx="2.5" ry="1.6" fill="#e8bd2a"/>
<ellipse cx="585" cy="556" rx="2.2" ry="1.1" fill="#f7d548"/>
<ellipse cx="623" cy="538" rx="2.1" ry="1.4" fill="#dcb428"/>
<ellipse cx="649" cy="551" rx="3.0" ry="2.2" fill="#f2c934"/>
<ellipse cx="638" cy="547" rx="3.0" ry="1.5" fill="#f0c52e"/>
<ellipse cx="646" cy="578" rx="2.5" ry="1.2" fill="#f0c52e"/>
<ellipse cx="584" cy="511" rx="2.2" ry="1.3" fill="#f7d548"/>
<ellipse cx="602" cy="547" rx="2.8" ry="1.7" fill="#f0c52e"/>
<ellipse cx="647" cy="573" rx="2.0" ry="1.2" fill="#f7d548"/>
<ellipse cx="636" cy="546" rx="2.8" ry="1.9" fill="#e8bd2a"/>
<ellipse cx="622" cy="506" rx="2.1" ry="1.3" fill="#dcb428"/>
<ellipse cx="617" cy="520" rx="1.6" ry="0.9" fill="#e8bd2a"/>
<ellipse cx="590" cy="535" rx="1.9" ry="1.2" fill="#f7d548"/>
<ellipse cx="593" cy="508" rx="1.2" ry="0.8" fill="#f0c52e"/>
<ellipse cx="608" cy="588" rx="1.9" ry="1.3" fill="#e8bd2a"/>
<ellipse cx="600" cy="518" rx="1.7" ry="1.0" fill="#dcb428"/>
<ellipse cx="648" cy="501" rx="1.4" ry="0.9" fill="#f7d548"/>
<ellipse cx="595" cy="540" rx="2.3" ry="1.4" fill="#f2c934"/>
<ellipse cx="590" cy="536" rx="2.2" ry="1.2" fill="#e8bd2a"/>
<ellipse cx="632" cy="539" rx="2.6" ry="1.5" fill="#f0c52e"/>
<ellipse cx="604" cy="519" rx="1.5" ry="1.0" fill="#dcb428"/>
<ellipse cx="580" cy="555" rx="2.5" ry="1.4" fill="#f7d548"/>
<ellipse cx="581" cy="550" rx="2.0" ry="1.4" fill="#f2c934"/>
<ellipse cx="620" cy="655" rx="3.9" ry="2.9" fill="#dcb428"/>
<ellipse cx="624" cy="501" rx="2.0" ry="1.2" fill="#f0c52e"/>
<ellipse cx="615" cy="553" rx="2.9" ry="1.5" fill="#dcb428"/>
<ellipse cx="602" cy="566" rx="3.1" ry="2.1" fill="#dcb428"/>
<ellipse cx="657" cy="548" rx="3.3" ry="2.4" fill="#dcb428"/>
<ellipse cx="589" cy="646" rx="4.6" ry="3.0" fill="#f2c934"/>
<ellipse cx="609" cy="556" rx="2.9" ry="1.6" fill="#f7d548"/>
<ellipse cx="588" cy="522" rx="2.0" ry="1.0" fill="#f7d548"/>
<ellipse cx="609" cy="564" rx="2.6" ry="1.4" fill="#dcb428"/>
<ellipse cx="651" cy="652" rx="3.3" ry="2.2" fill="#f2c934"/>
<ellipse cx="591" cy="559" rx="2.8" ry="1.6" fill="#f2c934"/>
<ellipse cx="605" cy="664" rx="3.2" ry="2.1" fill="#f2c934"/>
<ellipse cx="613" cy="539" rx="2.6" ry="1.6" fill="#e8bd2a"/>
<ellipse cx="612" cy="512" rx="1.9" ry="1.2" fill="#f2c934"/>
<ellipse cx="640" cy="549" rx="2.5" ry="1.7" fill="#f2c934"/>
<ellipse cx="648" cy="546" rx="2.1" ry="1.5" fill="#f2c934"/>
<ellipse cx="591" cy="554" rx="2.5" ry="1.5" fill="#f2c934"/>
<ellipse cx="642" cy="542" rx="2.8" ry="1.8" fill="#dcb428"/>
<ellipse cx="645" cy="548" rx="2.5" ry="1.6" fill="#f0c52e"/>
<ellipse cx="619" cy="545" rx="2.5" ry="1.7" fill="#e8bd2a"/>
<ellipse cx="600" cy="538" rx="2.1" ry="1.4" fill="#dcb428"/>
<ellipse cx="626" cy="558" rx="2.3" ry="1.6" fill="#dcb428"/>
<ellipse cx="585" cy="586" rx="3.3" ry="1.9" fill="#f7d548"/>
<ellipse cx="609" cy="623" rx="4.1" ry="2.2" fill="#f7d548"/>
<ellipse cx="608" cy="562" rx="2.1" ry="1.5" fill="#f0c52e"/>
<ellipse cx="650" cy="586" rx="2.2" ry="1.6" fill="#f2c934"/>
<ellipse cx="581" cy="573" rx="3.1" ry="1.7" fill="#f2c934"/>
<ellipse cx="603" cy="565" rx="3.2" ry="1.8" fill="#f0c52e"/>
<ellipse cx="582" cy="566" rx="3.1" ry="1.7" fill="#e8bd2a"/>
<ellipse cx="627" cy="583" rx="3.3" ry="2.4" fill="#f7d548"/>
<ellipse cx="606" cy="551" rx="2.2" ry="1.3" fill="#dcb428"/>
<ellipse cx="659" cy="541" rx="3.0" ry="1.7" fill="#e8bd2a"/>
<ellipse cx="649" cy="585" rx="2.2" ry="1.3" fill="#dcb428"/>
<ellipse cx="629" cy="535" rx="2.9" ry="1.8" fill="#f2c934"/>
<ellipse cx="654" cy="504" rx="1.6" ry="1.2" fill="#f0c52e"/>
<ellipse cx="623" cy="502" rx="1.8" ry="1.0" fill="#e8bd2a"/>
<ellipse cx="642" cy="557" rx="3.2" ry="1.7" fill="#f0c52e"/>
<ellipse cx="593" cy="526" rx="1.4" ry="0.8" fill="#f2c934"/>
<ellipse cx="643" cy="518" rx="1.3" ry="0.9" fill="#e8bd2a"/>
<ellipse cx="608" cy="533" rx="2.0" ry="1.1" fill="#f2c934"/>
<ellipse cx="624" cy="505" rx="1.6" ry="0.8" fill="#e8bd2a"/>
<ellipse cx="642" cy="534" rx="2.4" ry="1.8" fill="#f7d548"/>
<ellipse cx="638" cy="550" rx="2.1" ry="1.5" fill="#dcb428"/>
<ellipse cx="592" cy="516" rx="1.2" ry="0.8" fill="#f7d548"/>
<ellipse cx="645" cy="516" rx="1.7" ry="1.2" fill="#e8bd2a"/>
<ellipse cx="622" cy="591" rx="3.6" ry="2.1" fill="#e8bd2a"/>
<ellipse cx="613" cy="551" rx="3.1" ry="1.7" fill="#f0c52e"/>
<ellipse cx="631" cy="640" rx="3.7" ry="2.5" fill="#f7d548"/>
<ellipse cx="611" cy="580" rx="2.6" ry="1.6" fill="#e8bd2a"/>
<ellipse cx="611" cy="534" rx="2.7" ry="1.6" fill="#f2c934"/>
<ellipse cx="630" cy="551" rx="2.8" ry="1.6" fill="#f0c52e"/>
<ellipse cx="612" cy="565" rx="2.5" ry="1.6" fill="#f2c934"/>
<ellipse cx="584" cy="637" rx="3.8" ry="2.1" fill="#dcb428"/>
<ellipse cx="632" cy="504" rx="2.0" ry="1.5" fill="#f7d548"/>
<ellipse cx="595" cy="515" rx="2.0" ry="1.2" fill="#f0c52e"/>
<ellipse cx="585" cy="596" rx="3.8" ry="2.4" fill="#f2c934"/>
<ellipse cx="591" cy="583" rx="2.8" ry="2.1" fill="#e8bd2a"/>
<ellipse cx="633" cy="566" rx="2.8" ry="1.9" fill="#f7d548"/>
<ellipse cx="657" cy="613" rx="3.5" ry="1.8" fill="#f7d548"/>
<ellipse cx="641" cy="517" rx="2.0" ry="1.2" fill="#f0c52e"/>
<ellipse cx="579" cy="549" rx="3.3" ry="2.2" fill="#e8bd2a"/>
<ellipse cx="631" cy="541" rx="2.7" ry="1.9" fill="#dcb428"/>
<ellipse cx="649" cy="518" rx="1.7" ry="1.2" fill="#e8bd2a"/>
<ellipse cx="628" cy="581" rx="2.3" ry="1.2" fill="#f0c52e"/>
<ellipse cx="653" cy="536" rx="2.8" ry="2.0" fill="#f0c52e"/>
<ellipse cx="660" cy="504" rx="1.7" ry="1.1" fill="#f7d548"/>
<ellipse cx="607" cy="620" rx="4.0" ry="2.3" fill="#e8bd2a"/>
<ellipse cx="641" cy="508" rx="1.7" ry="1.1" fill="#f2c934"/>
<ellipse cx="591" cy="566" rx="1.8" ry="1.1" fill="#f2c934"/>
<ellipse cx="633" cy="562" rx="2.1" ry="1.5" fill="#e8bd2a"/>
<ellipse cx="655" cy="539" rx="3.1" ry="1.8" fill="#dcb428"/>
<ellipse cx="605" cy="664" rx="4.5" ry="2.6" fill="#e8bd2a"/>
<ellipse cx="620" cy="503" rx="2.1" ry="1.1" fill="#f2c934"/>
<ellipse cx="653" cy="523" rx="1.7" ry="1.0" fill="#f0c52e"/>
<ellipse cx="607" cy="561" rx="2.7" ry="1.5" fill="#dcb428"/>
<ellipse cx="627" cy="505" rx="1.3" ry="0.7" fill="#e8bd2a"/>
<ellipse cx="634" cy="535" rx="2.9" ry="1.8" fill="#f0c52e"/>
<ellipse cx="622" cy="651" rx="3.6" ry="2.7" fill="#f7d548"/>
<ellipse cx="592" cy="545" rx="1.9" ry="1.1" fill="#f0c52e"/>
<ellipse cx="651" cy="551" rx="3.0" ry="2.0" fill="#e8bd2a"/>
<ellipse cx="625" cy="558" rx="2.9" ry="1.8" fill="#dcb428"/>
<ellipse cx="629" cy="553" rx="3.1" ry="2.1" fill="#f0c52e"/>
<ellipse cx="606" cy="526" rx="2.1" ry="1.1" fill="#f2c934"/>
<ellipse cx="629" cy="547" rx="2.1" ry="1.3" fill="#e8bd2a"/>
<ellipse cx="583" cy="514" rx="1.8" ry="1.2" fill="#f0c52e"/>
<ellipse cx="610" cy="548" rx="2.9" ry="1.8" fill="#e8bd2a"/>
<ellipse cx="648" cy="656" rx="4.2" ry="2.4" fill="#dcb428"/>
<ellipse cx="624" cy="557" rx="2.6" ry="1.6" fill="#e8bd2a"/>
<ellipse cx="599" cy="536" rx="2.9" ry="2.0" fill="#f0c52e"/>
<ellipse cx="631" cy="592" rx="2.5" ry="1.8" fill="#f2c934"/>
<ellipse cx="660" cy="556" rx="2.0" ry="1.0" fill="#f2c934"/>
<ellipse cx="591" cy="652" rx="3.4" ry="2.1" fill="#f7d548"/>
<ellipse cx="646" cy="558" rx="2.7" ry="1.9" fill="#f7d548"/>
<ellipse cx="628" cy="535" rx="2.2" ry="1.6" fill="#e8bd2a"/>
<ellipse cx="658" cy="562" rx="3.0" ry="1.6" fill="#e8bd2a"/>
<ellipse cx="604" cy="562" rx="3.3" ry="2.0" fill="#dcb428"/>
<ellipse cx="651" cy="564" rx="3.0" ry="1.9" fill="#e8bd2a"/>
<ellipse cx="645" cy="506" rx="1.9" ry="1.3" fill="#f0c52e"/>
<ellipse cx="598" cy="547" rx="3.1" ry="1.8" fill="#f2c934"/>
<ellipse cx="597" cy="558" rx="2.9" ry="1.7" fill="#e8bd2a"/>
<ellipse cx="654" cy="535" rx="2.2" ry="1.3" fill="#f7d548"/>
<ellipse cx="624" cy="589" rx="3.3" ry="2.3" fill="#f7d548"/>
<ellipse cx="619" cy="586" rx="2.8" ry="1.9" fill="#dcb428"/>
<ellipse cx="599" cy="554" rx="2.5" ry="1.7" fill="#e8bd2a"/>
<ellipse cx="613" cy="507" rx="1.9" ry="1.4" fill="#f0c52e"/>
<ellipse cx="659" cy="568" rx="2.6" ry="1.6" fill="#f2c934"/>
<ellipse cx="581" cy="561" rx="1.9" ry="1.1" fill="#dcb428"/>
<ellipse cx="615" cy="592" rx="3.3" ry="2.1" fill="#f7d548"/>
<ellipse cx="643" cy="516" rx="2.1" ry="1.2" fill="#e8bd2a"/>
<ellipse cx="648" cy="525" rx="1.5" ry="1.0" fill="#f7d548"/>
<ellipse cx="637" cy="534" rx="2.1" ry="1.5" fill="#f0c52e"/>
<ellipse cx="639" cy="555" rx="2.6" ry="1.6" fill="#f0c52e"/>
<ellipse cx="660" cy="527" rx="2.3" ry="1.6" fill="#f2c934"/>
<ellipse cx="219" cy="664" rx="4.0" ry="2.7" fill="#f0c52e"/>
<ellipse cx="537" cy="662" rx="4.2" ry="2.8" fill="#f2c934"/>
<ellipse cx="142" cy="663" rx="2.8" ry="1.7" fill="#f2c934"/>
<ellipse cx="123" cy="664" rx="2.6" ry="1.4" fill="#f2c934"/>
<ellipse cx="239" cy="663" rx="2.8" ry="2.1" fill="#f7d548"/>
<ellipse cx="298" cy="661" rx="3.3" ry="2.1" fill="#f2c934"/>
<ellipse cx="329" cy="664" rx="3.9" ry="2.5" fill="#dcb428"/>
<ellipse cx="419" cy="666" rx="4.6" ry="2.5" fill="#e8bd2a"/>
<ellipse cx="74" cy="663" rx="4.3" ry="2.9" fill="#f7d548"/>
<ellipse cx="581" cy="661" rx="4.8" ry="3.4" fill="#f2c934"/>
<ellipse cx="152" cy="665" rx="3.0" ry="1.9" fill="#f0c52e"/>
<ellipse cx="417" cy="663" rx="4.6" ry="2.5" fill="#dcb428"/>
<ellipse cx="392" cy="666" rx="4.0" ry="2.5" fill="#dcb428"/>
<ellipse cx="317" cy="661" rx="4.2" ry="2.2" fill="#f7d548"/>
<ellipse cx="457" cy="661" rx="3.5" ry="1.8" fill="#f2c934"/>
<ellipse cx="453" cy="665" rx="3.1" ry="1.7" fill="#f0c52e"/>
<ellipse cx="417" cy="666" rx="4.0" ry="2.9" fill="#e8bd2a"/>
<ellipse cx="251" cy="665" rx="4.5" ry="2.3" fill="#f2c934"/>
<ellipse cx="116" cy="660" rx="2.9" ry="1.8" fill="#dcb428"/>
<ellipse cx="566" cy="661" rx="4.0" ry="2.5" fill="#dcb428"/>
<ellipse cx="95" cy="704" rx="4.1" ry="2.4" fill="#f7d548"/>
<ellipse cx="58" cy="717" rx="3.2" ry="2.2" fill="#f7d548"/>
<ellipse cx="149" cy="708" rx="3.4" ry="2.4" fill="#f7d548"/>
<ellipse cx="150" cy="714" rx="3.6" ry="2.6" fill="#dcb428"/>
<ellipse cx="411" cy="709" rx="3.1" ry="2.0" fill="#f2c934"/>
<ellipse cx="9" cy="715" rx="2.9" ry="1.7" fill="#f0c52e"/>
<ellipse cx="173" cy="706" rx="2.7" ry="1.4" fill="#f2c934"/>
<ellipse cx="391" cy="709" rx="3.4" ry="2.1" fill="#f7d548"/>
<ellipse cx="78" cy="708" rx="3.0" ry="2.2" fill="#e8bd2a"/>
<ellipse cx="26" cy="708" rx="3.3" ry="2.2" fill="#f0c52e"/>
<ellipse cx="573" cy="705" rx="4.6" ry="2.7" fill="#dcb428"/>
<ellipse cx="124" cy="711" rx="4.5" ry="2.3" fill="#dcb428"/>
<ellipse cx="540" cy="705" rx="4.7" ry="3.2" fill="#f7d548"/>
<ellipse cx="81" cy="707" rx="2.7" ry="1.7" fill="#f0c52e"/>
<ellipse cx="252" cy="714" rx="4.6" ry="3.1" fill="#f7d548"/>
<ellipse cx="204" cy="716" rx="2.8" ry="1.7" fill="#f0c52e"/>
<ellipse cx="9" cy="711" rx="3.6" ry="2.5" fill="#e8bd2a"/>
<ellipse cx="60" cy="715" rx="4.1" ry="2.7" fill="#dcb428"/>
<ellipse cx="296" cy="715" rx="3.6" ry="2.1" fill="#e8bd2a"/>
<ellipse cx="173" cy="704" rx="4.7" ry="3.1" fill="#f0c52e"/>
<ellipse cx="402" cy="707" rx="4.6" ry="2.5" fill="#e8bd2a"/>
<ellipse cx="76" cy="715" rx="3.8" ry="2.6" fill="#f7d548"/>
<ellipse cx="328" cy="708" rx="3.1" ry="1.6" fill="#e8bd2a"/>
<ellipse cx="108" cy="707" rx="3.2" ry="1.7" fill="#f2c934"/>
<ellipse cx="622" cy="713" rx="2.6" ry="1.7" fill="#f7d548"/>
<ellipse cx="138" cy="709" rx="3.8" ry="2.3" fill="#f2c934"/>
<ellipse cx="187" cy="705" rx="2.6" ry="1.6" fill="#f2c934"/>
<ellipse cx="201" cy="713" rx="3.4" ry="1.7" fill="#f2c934"/>
<ellipse cx="113" cy="709" rx="4.2" ry="3.0" fill="#f7d548"/>
<ellipse cx="230" cy="708" rx="4.2" ry="2.9" fill="#f2c934"/>
<ellipse cx="515" cy="715" rx="3.7" ry="2.2" fill="#dcb428"/>
<ellipse cx="85" cy="715" rx="4.6" ry="3.2" fill="#f7d548"/>
<ellipse cx="109" cy="711" rx="4.1" ry="2.6" fill="#f2c934"/>
<ellipse cx="401" cy="713" rx="3.8" ry="2.5" fill="#f7d548"/>
<ellipse cx="277" cy="712" rx="3.9" ry="2.2" fill="#f0c52e"/>
<ellipse cx="119" cy="713" rx="4.4" ry="3.0" fill="#f2c934"/>
<ellipse cx="616" cy="707" rx="4.3" ry="3.2" fill="#e8bd2a"/>
<ellipse cx="66" cy="709" rx="2.7" ry="1.7" fill="#dcb428"/>
<ellipse cx="634" cy="716" rx="4.6" ry="3.4" fill="#f7d548"/>
<ellipse cx="198" cy="716" rx="3.3" ry="1.7" fill="#f2c934"/>
<ellipse cx="211" cy="704" rx="4.8" ry="2.7" fill="#f2c934"/>
<ellipse cx="328" cy="712" rx="3.6" ry="1.8" fill="#dcb428"/>
<ellipse cx="123" cy="710" rx="3.2" ry="2.2" fill="#f0c52e"/>
<ellipse cx="112" cy="706" rx="4.0" ry="2.9" fill="#dcb428"/>
<ellipse cx="640" cy="705" rx="3.2" ry="1.9" fill="#f0c52e"/>
<ellipse cx="415" cy="714" rx="2.7" ry="1.5" fill="#dcb428"/>
<ellipse cx="497" cy="712" rx="3.5" ry="2.5" fill="#f7d548"/>
<ellipse cx="402" cy="716" rx="2.9" ry="2.0" fill="#f7d548"/>
<ellipse cx="69" cy="715" rx="4.3" ry="3.0" fill="#e8bd2a"/>
<ellipse cx="320" cy="705" rx="3.9" ry="2.3" fill="#f0c52e"/>
<ellipse cx="438" cy="705" rx="4.0" ry="2.8" fill="#f0c52e"/>
<ellipse cx="131" cy="704" rx="3.2" ry="2.1" fill="#e8bd2a"/>
<ellipse cx="275" cy="711" rx="3.5" ry="2.1" fill="#f2c934"/>
<ellipse cx="623" cy="711" rx="4.5" ry="3.0" fill="#dcb428"/>
<ellipse cx="119" cy="705" rx="4.0" ry="2.7" fill="#f0c52e"/>
<ellipse cx="51" cy="704" rx="3.0" ry="1.7" fill="#f7d548"/>
<ellipse cx="589" cy="717" rx="4.2" ry="3.1" fill="#f0c52e"/>
<ellipse cx="235" cy="707" rx="3.4" ry="2.4" fill="#e8bd2a"/>
<ellipse cx="106" cy="707" rx="3.3" ry="2.4" fill="#f2c934"/>
<ellipse cx="181" cy="707" rx="2.7" ry="1.5" fill="#e8bd2a"/>
<ellipse cx="110" cy="709" rx="3.3" ry="2.5" fill="#e8bd2a"/>
<ellipse cx="297" cy="707" rx="3.3" ry="2.2" fill="#f2c934"/>
<ellipse cx="266" cy="705" rx="4.7" ry="2.4" fill="#e8bd2a"/>
<ellipse cx="514" cy="710" rx="3.2" ry="2.0" fill="#dcb428"/>
<ellipse cx="314" cy="712" rx="2.7" ry="1.5" fill="#dcb428"/>
<ellipse cx="236" cy="716" rx="4.8" ry="3.5" fill="#f7d548"/>
<ellipse cx="476" cy="716" rx="3.7" ry="2.6" fill="#dcb428"/>
<ellipse cx="588" cy="710" rx="3.1" ry="2.2" fill="#f7d548"/>
<ellipse cx="73" cy="708" rx="4.1" ry="2.9" fill="#f0c52e"/>
<ellipse cx="145" cy="717" rx="2.7" ry="1.7" fill="#dcb428"/>
<ellipse cx="644" cy="709" rx="4.2" ry="2.2" fill="#f7d548"/>
<ellipse cx="87" cy="709" rx="2.6" ry="1.8" fill="#e8bd2a"/>
<ellipse cx="572" cy="714" rx="2.8" ry="2.0" fill="#dcb428"/>
<ellipse cx="132" cy="716" rx="4.4" ry="2.5" fill="#e8bd2a"/>
<ellipse cx="323" cy="710" rx="2.9" ry="1.5" fill="#f7d548"/>
<ellipse cx="169" cy="709" rx="4.0" ry="2.9" fill="#e8bd2a"/>
<ellipse cx="648" cy="712" rx="3.3" ry="2.1" fill="#f7d548"/>
<ellipse cx="228" cy="711" rx="2.6" ry="1.5" fill="#f0c52e"/>
<ellipse cx="-3" cy="708" rx="3.6" ry="2.6" fill="#dcb428"/>
<ellipse cx="83" cy="705" rx="4.5" ry="2.8" fill="#f7d548"/>
<ellipse cx="591" cy="707" rx="4.7" ry="2.9" fill="#f2c934"/>
<ellipse cx="277" cy="713" rx="3.8" ry="2.6" fill="#f2c934"/>
<ellipse cx="540" cy="714" rx="3.7" ry="2.6" fill="#dcb428"/>
<ellipse cx="151" cy="717" rx="3.8" ry="2.8" fill="#f0c52e"/>
<ellipse cx="116" cy="715" rx="4.4" ry="2.4" fill="#f7d548"/>
<ellipse cx="166" cy="706" rx="3.1" ry="1.8" fill="#dcb428"/>
<ellipse cx="270" cy="706" rx="3.9" ry="2.3" fill="#f0c52e"/>
<ellipse cx="84" cy="704" rx="3.9" ry="2.7" fill="#e8bd2a"/>
<ellipse cx="226" cy="716" rx="3.5" ry="2.1" fill="#f2c934"/>
<ellipse cx="437" cy="713" rx="2.9" ry="1.9" fill="#f2c934"/>
<ellipse cx="322" cy="705" rx="3.9" ry="2.8" fill="#e8bd2a"/>
<ellipse cx="214" cy="709" rx="3.6" ry="2.7" fill="#e8bd2a"/>
<ellipse cx="507" cy="706" rx="4.7" ry="3.3" fill="#dcb428"/>
<ellipse cx="246" cy="707" rx="3.5" ry="1.9" fill="#f7d548"/>
<ellipse cx="464" cy="707" rx="3.5" ry="2.2" fill="#f7d548"/>
<ellipse cx="325" cy="706" rx="4.1" ry="2.1" fill="#dcb428"/>
<ellipse cx="219" cy="705" rx="3.9" ry="2.1" fill="#f2c934"/>
<ellipse cx="250" cy="711" rx="3.0" ry="1.8" fill="#f2c934"/>
<ellipse cx="199" cy="710" rx="4.2" ry="2.5" fill="#f0c52e"/>
<ellipse cx="265" cy="707" rx="2.8" ry="2.1" fill="#f7d548"/>
<ellipse cx="136" cy="705" rx="4.1" ry="2.1" fill="#f0c52e"/>
<ellipse cx="549" cy="711" rx="4.3" ry="2.3" fill="#e8bd2a"/>
<ellipse cx="288" cy="709" rx="4.2" ry="2.8" fill="#f7d548"/>
<ellipse cx="151" cy="706" rx="4.4" ry="2.3" fill="#e8bd2a"/>
<ellipse cx="544" cy="716" rx="4.4" ry="2.8" fill="#f7d548"/>
<ellipse cx="165" cy="715" rx="3.2" ry="2.2" fill="#f2c934"/>
<ellipse cx="159" cy="706" rx="2.6" ry="1.9" fill="#f7d548"/>
<ellipse cx="464" cy="713" rx="2.7" ry="1.8" fill="#f2c934"/>
<ellipse cx="220" cy="717" rx="4.7" ry="3.2" fill="#f0c52e"/>
<filter id="bl" x="-20%" y="-20%" width="140%" height="140%"><feGaussianBlur stdDeviation="1.2"/></filter>
<polygon points="0,498 0.0,463.7 2.5,472.0 5.0,469.0 8.7,468.0 12.0,465.0 16.9,461.9 19.5,465.0 21.9,466.9 25.0,465.0 28.7,463.8 32.5,467.5 36.2,466.2 41.2,470.0 46.2,473.0 50.0,472.0 53.7,471.9 57.0,473.0 60.0,473.8 64.0,471.0 67.5,470.0 72.5,473.0 76.0,474.4 90.0,474.0 120.0,472.0 160.0,475.0 200.0,472.0 200,498" fill="#13271a"/>
<g filter="url(#bl)">
<ellipse cx="4" cy="486" rx="7" ry="10" fill="#4d7f3c"/>
<ellipse cx="33" cy="485" rx="8" ry="8" fill="#46783a"/>
<ellipse cx="46" cy="490" rx="4" ry="5" fill="#3b6833"/>
<ellipse cx="20" cy="490" rx="4" ry="5" fill="#2a4a26"/>
<ellipse cx="62" cy="488" rx="4" ry="6" fill="#22401f"/>
</g>
<circle cx="48" cy="491" r="2.2" fill="#3a6532" opacity=".6"/>
<circle cx="65" cy="492" r="1.4" fill="#3a6532" opacity=".6"/>
<circle cx="70" cy="480" r="1.7" fill="#4a7a3c" opacity=".6"/>
<circle cx="28" cy="480" r="1.4" fill="#4a7a3c" opacity=".6"/>
<circle cx="31" cy="481" r="2.3" fill="#24401f" opacity=".6"/>
<circle cx="11" cy="492" r="1.2" fill="#24401f" opacity=".6"/>
<circle cx="8" cy="478" r="2.3" fill="#4a7a3c" opacity=".6"/>
<circle cx="60" cy="495" r="1.2" fill="#4a7a3c" opacity=".6"/>
<circle cx="21" cy="495" r="1.8" fill="#4a7a3c" opacity=".6"/>
<circle cx="13" cy="495" r="1.3" fill="#24401f" opacity=".6"/>
<circle cx="22" cy="485" r="1.2" fill="#4a7a3c" opacity=".6"/>
<circle cx="19" cy="484" r="2.2" fill="#3a6532" opacity=".6"/>
<circle cx="46" cy="491" r="1.1" fill="#2c5228" opacity=".6"/>
<circle cx="63" cy="487" r="1.5" fill="#24401f" opacity=".6"/>
<circle cx="36" cy="481" r="1.4" fill="#3a6532" opacity=".6"/>
<circle cx="74" cy="484" r="1.6" fill="#24401f" opacity=".6"/>
<circle cx="27" cy="488" r="1.0" fill="#3a6532" opacity=".6"/>
<circle cx="55" cy="489" r="2.4" fill="#3a6532" opacity=".6"/>
<circle cx="58" cy="495" r="2.4" fill="#2c5228" opacity=".6"/>
<circle cx="39" cy="494" r="1.4" fill="#24401f" opacity=".6"/>
<circle cx="7" cy="491" r="2.2" fill="#2c5228" opacity=".6"/>
<circle cx="1" cy="495" r="1.1" fill="#2c5228" opacity=".6"/>
<circle cx="39" cy="485" r="1.2" fill="#2c5228" opacity=".6"/>
<circle cx="72" cy="488" r="1.5" fill="#2c5228" opacity=".6"/>
<circle cx="22" cy="492" r="1.9" fill="#2c5228" opacity=".6"/>
<circle cx="78" cy="481" r="1.1" fill="#24401f" opacity=".6"/>
<circle cx="1" cy="491" r="1.5" fill="#2c5228" opacity=".6"/>
<circle cx="34" cy="486" r="1.1" fill="#3a6532" opacity=".6"/>
<circle cx="62" cy="484" r="1.3" fill="#4a7a3c" opacity=".6"/>
<circle cx="48" cy="492" r="1.2" fill="#24401f" opacity=".6"/>
<circle cx="28" cy="479" r="1.6" fill="#4a7a3c" opacity=".6"/>
<circle cx="34" cy="496" r="2.3" fill="#24401f" opacity=".6"/>
<circle cx="75" cy="490" r="1.5" fill="#2c5228" opacity=".6"/>
<circle cx="21" cy="485" r="1.2" fill="#24401f" opacity=".6"/>
<circle cx="64" cy="488" r="1.3" fill="#24401f" opacity=".6"/>
<circle cx="67" cy="481" r="1.7" fill="#2c5228" opacity=".6"/>
<circle cx="3" cy="492" r="1.5" fill="#3a6532" opacity=".6"/>
<circle cx="59" cy="485" r="2.1" fill="#2c5228" opacity=".6"/>
<circle cx="65" cy="483" r="2.5" fill="#2c5228" opacity=".6"/>
<circle cx="75" cy="484" r="1.3" fill="#3a6532" opacity=".6"/>
<linearGradient id="tg" x1="0" y1="0" x2="0.3" y2="1"><stop offset="0" stop-color="#5a8848"/><stop offset="0.45" stop-color="#3e683c"/><stop offset="1" stop-color="#22402a"/></linearGradient>
<polygon points="520,500 520.0,449.0 545.0,447.0 560.0,444.0 572.0,441.0 583.8,438.8 591.0,435.0 594.0,431.0 597.0,429.0 603.0,428.0 606.0,428.0 609.0,427.0 615.0,424.0 621.0,419.0 626.0,417.0 630.0,416.0 636.0,410.6 641.0,408.0 645.0,404.0 648.7,400.0 653.7,398.0 657.0,398.7 657,500" fill="url(#tg)"/>
<g filter="url(#bl)">
<ellipse cx="642" cy="422" rx="9" ry="10" fill="#78a658"/>
<ellipse cx="628" cy="432" rx="7" ry="8" fill="#6a9a50"/>
<ellipse cx="652" cy="445" rx="6" ry="10" fill="#5e8a55"/>
<ellipse cx="598" cy="472" rx="12" ry="18" fill="#1f3a24"/>
<ellipse cx="622" cy="482" rx="9" ry="12" fill="#2a4a2e"/>
<ellipse cx="646" cy="480" rx="7" ry="9" fill="#3f6a42"/>
<ellipse cx="654" cy="496" rx="5" ry="3" fill="#8fb070"/>
<ellipse cx="605" cy="440" rx="6" ry="9" fill="#2a4a2e"/>
<ellipse cx="588" cy="455" rx="6" ry="10" fill="#27462b"/>
</g>
<polygon points="596,439 601,413 606,439" fill="#1a3220"/>
<polygon points="607.5,437 612,413 616.5,437" fill="#1a3220"/>
<polygon points="621.5,436 625,418 628.5,436" fill="#1a3220"/>
<polygon points="632,430 636,410 640,430" fill="#1a3220"/>
<polygon points="643,422 647,402 651,422" fill="#1a3220"/>
<polygon points="651,420 655,398 659,420" fill="#1a3220"/>
<polygon points="586,475 590,445 594,475" fill="#1a3220"/>
<polygon points="605,490 610,450 615,490" fill="#1a3220"/>
<polygon points="626,490 630,455 634,490" fill="#1a3220"/>
<polygon points="641.5,470 645,440 648.5,470" fill="#1a3220"/>
<polygon points="596,498 600,470 604,498" fill="#1a3220"/>
<polygon points="618,498 622,468 626,498" fill="#1a3220"/>
<circle cx="620" cy="481" r="1.5" fill="#6a9a52" opacity=".5"/>
<circle cx="619" cy="484" r="2.0" fill="#6a9a52" opacity=".5"/>
<circle cx="610" cy="470" r="2.1" fill="#1d3620" opacity=".5"/>
<circle cx="610" cy="487" r="2.3" fill="#1d3620" opacity=".5"/>
<circle cx="658" cy="496" r="1.8" fill="#476e45" opacity=".5"/>
<circle cx="658" cy="432" r="1.5" fill="#1d3620" opacity=".5"/>
<circle cx="635" cy="450" r="1.9" fill="#476e45" opacity=".5"/>
<circle cx="623" cy="495" r="1.5" fill="#476e45" opacity=".5"/>
<circle cx="643" cy="469" r="2.1" fill="#5f9048" opacity=".5"/>
<circle cx="598" cy="465" r="1.9" fill="#3a6438" opacity=".5"/>
<circle cx="600" cy="473" r="1.9" fill="#5f9048" opacity=".5"/>
<circle cx="659" cy="498" r="1.2" fill="#3a6438" opacity=".5"/>
<circle cx="592" cy="497" r="1.7" fill="#476e45" opacity=".5"/>
<circle cx="586" cy="455" r="1.6" fill="#476e45" opacity=".5"/>
<circle cx="638" cy="447" r="1.5" fill="#6a9a52" opacity=".5"/>
<circle cx="649" cy="489" r="2.0" fill="#476e45" opacity=".5"/>
<circle cx="630" cy="423" r="1.8" fill="#6a9a52" opacity=".5"/>
<circle cx="656" cy="440" r="1.5" fill="#3a6438" opacity=".5"/>
<circle cx="615" cy="484" r="2.0" fill="#6a9a52" opacity=".5"/>
<circle cx="619" cy="428" r="1.6" fill="#1d3620" opacity=".5"/>
<circle cx="657" cy="497" r="1.9" fill="#6a9a52" opacity=".5"/>
<circle cx="646" cy="471" r="1.6" fill="#6a9a52" opacity=".5"/>
<circle cx="627" cy="467" r="1.2" fill="#476e45" opacity=".5"/>
<circle cx="612" cy="452" r="1.3" fill="#6a9a52" opacity=".5"/>
<circle cx="620" cy="475" r="1.6" fill="#3a6438" opacity=".5"/>
<circle cx="629" cy="437" r="2.5" fill="#1d3620" opacity=".5"/>
<circle cx="656" cy="441" r="2.4" fill="#3a6438" opacity=".5"/>
<circle cx="620" cy="425" r="1.9" fill="#1d3620" opacity=".5"/>
<circle cx="594" cy="448" r="1.7" fill="#476e45" opacity=".5"/>
<circle cx="604" cy="494" r="2.2" fill="#3a6438" opacity=".5"/>
<circle cx="621" cy="487" r="2.1" fill="#6a9a52" opacity=".5"/>
<circle cx="606" cy="467" r="1.7" fill="#476e45" opacity=".5"/>
<circle cx="651" cy="491" r="1.0" fill="#3a6438" opacity=".5"/>
<circle cx="606" cy="460" r="1.5" fill="#6a9a52" opacity=".5"/>
<circle cx="639" cy="417" r="1.5" fill="#476e45" opacity=".5"/>
<circle cx="626" cy="473" r="1.2" fill="#476e45" opacity=".5"/>
<circle cx="598" cy="452" r="2.2" fill="#476e45" opacity=".5"/>
<circle cx="627" cy="475" r="1.9" fill="#1d3620" opacity=".5"/>
<circle cx="649" cy="487" r="1.7" fill="#3a6438" opacity=".5"/>
<circle cx="652" cy="455" r="2.1" fill="#6a9a52" opacity=".5"/>
<circle cx="647" cy="474" r="1.6" fill="#6a9a52" opacity=".5"/>
<circle cx="633" cy="455" r="1.5" fill="#3a6438" opacity=".5"/>
<circle cx="620" cy="462" r="1.7" fill="#6a9a52" opacity=".5"/>
<circle cx="624" cy="451" r="1.8" fill="#5f9048" opacity=".5"/>
<circle cx="646" cy="482" r="2.0" fill="#5f9048" opacity=".5"/>
<circle cx="609" cy="451" r="1.1" fill="#1d3620" opacity=".5"/>
<circle cx="637" cy="419" r="2.3" fill="#3a6438" opacity=".5"/>
<circle cx="630" cy="485" r="1.2" fill="#3a6438" opacity=".5"/>
<circle cx="660" cy="475" r="1.7" fill="#3a6438" opacity=".5"/>
<circle cx="630" cy="450" r="1.2" fill="#476e45" opacity=".5"/>
<circle cx="599" cy="462" r="2.0" fill="#5f9048" opacity=".5"/>
<circle cx="605" cy="464" r="1.2" fill="#1d3620" opacity=".5"/>
<circle cx="651" cy="426" r="1.6" fill="#6a9a52" opacity=".5"/>
<circle cx="636" cy="457" r="1.5" fill="#6a9a52" opacity=".5"/>
<circle cx="653" cy="427" r="1.4" fill="#476e45" opacity=".5"/>
<circle cx="632" cy="458" r="2.4" fill="#476e45" opacity=".5"/>
<circle cx="625" cy="434" r="1.1" fill="#3a6438" opacity=".5"/>
<circle cx="603" cy="479" r="1.8" fill="#3a6438" opacity=".5"/>
<circle cx="645" cy="488" r="1.7" fill="#1d3620" opacity=".5"/>
<circle cx="597" cy="476" r="2.0" fill="#5f9048" opacity=".5"/>
<circle cx="627" cy="418" r="2.3" fill="#476e45" opacity=".5"/>
<circle cx="629" cy="435" r="2.3" fill="#1d3620" opacity=".5"/>
<circle cx="657" cy="424" r="1.8" fill="#476e45" opacity=".5"/>
<circle cx="639" cy="420" r="1.2" fill="#1d3620" opacity=".5"/>
<circle cx="635" cy="434" r="1.2" fill="#1d3620" opacity=".5"/>
<circle cx="646" cy="427" r="1.9" fill="#6a9a52" opacity=".5"/>
<circle cx="647" cy="440" r="2.4" fill="#6a9a52" opacity=".5"/>
<circle cx="644" cy="447" r="2.1" fill="#6a9a52" opacity=".5"/>
<circle cx="633" cy="483" r="1.7" fill="#6a9a52" opacity=".5"/>
<circle cx="623" cy="465" r="1.9" fill="#3a6438" opacity=".5"/>
<circle cx="586" cy="491" r="1.7" fill="#6a9a52" opacity=".5"/>
<circle cx="583" cy="455" r="2.3" fill="#476e45" opacity=".5"/>
<circle cx="654" cy="442" r="1.7" fill="#3a6438" opacity=".5"/>
<circle cx="612" cy="448" r="2.3" fill="#3a6438" opacity=".5"/>
<circle cx="626" cy="424" r="2.2" fill="#6a9a52" opacity=".5"/>
<circle cx="635" cy="418" r="2.3" fill="#6a9a52" opacity=".5"/>
<circle cx="654" cy="446" r="2.4" fill="#5f9048" opacity=".5"/>
<circle cx="635" cy="455" r="2.4" fill="#5f9048" opacity=".5"/>
<circle cx="643" cy="443" r="1.7" fill="#3a6438" opacity=".5"/>
<circle cx="639" cy="429" r="1.3" fill="#5f9048" opacity=".5"/>
<circle cx="627" cy="471" r="1.9" fill="#6a9a52" opacity=".5"/>
<circle cx="635" cy="431" r="1.5" fill="#5f9048" opacity=".5"/>
<circle cx="639" cy="476" r="1.2" fill="#3a6438" opacity=".5"/>
<circle cx="586" cy="467" r="2.1" fill="#6a9a52" opacity=".5"/>
<circle cx="643" cy="450" r="1.1" fill="#476e45" opacity=".5"/>
<circle cx="647" cy="486" r="1.8" fill="#5f9048" opacity=".5"/>
<circle cx="638" cy="435" r="2.2" fill="#5f9048" opacity=".5"/>
<circle cx="655" cy="420" r="1.4" fill="#5f9048" opacity=".5"/>
<circle cx="621" cy="481" r="1.1" fill="#1d3620" opacity=".5"/>
<circle cx="617" cy="469" r="2.3" fill="#3a6438" opacity=".5"/>
<circle cx="597" cy="458" r="1.6" fill="#476e45" opacity=".5"/>
<circle cx="601" cy="494" r="2.2" fill="#5f9048" opacity=".5"/>
<circle cx="625" cy="493" r="1.9" fill="#3a6438" opacity=".5"/>
<circle cx="631" cy="453" r="1.5" fill="#1d3620" opacity=".5"/>
<circle cx="627" cy="447" r="1.9" fill="#5f9048" opacity=".5"/>
<circle cx="653" cy="441" r="1.7" fill="#3a6438" opacity=".5"/>
<circle cx="626" cy="427" r="1.7" fill="#6a9a52" opacity=".5"/>
<circle cx="646" cy="442" r="1.2" fill="#5f9048" opacity=".5"/>
<circle cx="619" cy="474" r="2.2" fill="#476e45" opacity=".5"/>
<circle cx="634" cy="438" r="1.7" fill="#3a6438" opacity=".5"/>
<circle cx="605" cy="447" r="1.1" fill="#1d3620" opacity=".5"/>
<circle cx="642" cy="447" r="2.2" fill="#5f9048" opacity=".5"/>
<circle cx="652" cy="471" r="2.1" fill="#476e45" opacity=".5"/>
<circle cx="636" cy="481" r="1.0" fill="#5f9048" opacity=".5"/>
<circle cx="637" cy="438" r="2.2" fill="#1d3620" opacity=".5"/>
<circle cx="626" cy="442" r="1.5" fill="#3a6438" opacity=".5"/>
</svg>
<div class="logo">Pairy</div>
<div class="panel" style="left:76px;top:55px;width:507px;height:155px"></div>
<div class="t" style="left:214.5px;top:62.3px;font-size:10.3px;letter-spacing:-0.16px">ネット用語を使った告白をどう思いますか？（女性回答）</div>
<div class="axis" style="left:234px;top:75px;height:125px"></div>
<div class="bar" style="left:235px;top:83.00px;width:311.0px;height:9px"></div>
<div class="lab" style="right:430.7px;top:82.70px;font-size:8px;line-height:9.60px;letter-spacing:-0.36px">どういう状況でも嫌</div>
<div class="val" style="left:552.0px;top:85.10px;font-size:7px;line-height:8.40px">71.5%</div>
<div class="bar" style="left:235px;top:108.00px;width:63.1px;height:9px"></div>
<div class="lab" style="right:430.7px;top:107.70px;font-size:8px;line-height:9.60px;letter-spacing:-0.36px">少し言葉遣いが気になるがうれしい</div>
<div class="val" style="left:304.1px;top:110.10px;font-size:7px;line-height:8.40px">14.5%</div>
<div class="bar" style="left:235px;top:133.00px;width:48.3px;height:9px"></div>
<div class="lab" style="right:430.7px;top:132.70px;font-size:8px;line-height:9.60px;letter-spacing:-0.36px">シチュエーションによってはうれしい</div>
<div class="val" style="left:289.3px;top:135.10px;font-size:7px;line-height:8.40px">11.1%</div>
<div class="bar" style="left:235px;top:158.00px;width:16.5px;height:9px"></div>
<div class="lab" style="right:430.7px;top:157.70px;font-size:8px;line-height:9.60px;letter-spacing:-0.36px">イケメンからならうれしい</div>
<div class="val" style="left:257.5px;top:160.10px;font-size:7px;line-height:8.40px">3.8%</div>
<div class="bar" style="left:235px;top:183.00px;width:7.4px;height:9px"></div>
<div class="lab" style="right:430.7px;top:182.70px;font-size:8px;line-height:9.60px;letter-spacing:-0.36px">誰から告白されてもうれしい</div>
<div class="val" style="left:248.4px;top:185.10px;font-size:7px;line-height:8.40px">1.7%</div>
<div class="panel" style="left:76px;top:217px;width:506px;height:223px"></div>
<div class="t" style="left:175.3px;top:225px;font-size:12px;letter-spacing:0.08px">ネット用語を使うと好印象な女性芸能人を選んでください</div>
<div class="axis" style="left:182px;top:243px;height:188px"></div>
<div class="bar" style="left:183px;top:250.00px;width:352.0px;height:8.3px"></div>
<div class="lab" style="right:485.5px;top:248.15px;font-size:10px;line-height:12.00px;letter-spacing:0px">吉高由里子</div>
<div class="val" style="left:542.0px;top:251.05px;font-size:9px;line-height:10.80px">39.8%</div>
<div class="bar" style="left:183px;top:270.90px;width:203.4px;height:8.3px"></div>
<div class="lab" style="right:485.5px;top:269.05px;font-size:10px;line-height:12.00px;letter-spacing:0px">本田翼</div>
<div class="val" style="left:393.4px;top:271.95px;font-size:9px;line-height:10.80px">23.0%</div>
<div class="bar" style="left:183px;top:291.80px;width:176.0px;height:8.3px"></div>
<div class="lab" style="right:485.5px;top:289.95px;font-size:10px;line-height:12.00px;letter-spacing:0px">綾瀬はるか</div>
<div class="val" style="left:366.0px;top:292.85px;font-size:9px;line-height:10.80px">19.9%</div>
<div class="bar" style="left:183px;top:312.70px;width:123.8px;height:8.3px"></div>
<div class="lab" style="right:485.5px;top:310.85px;font-size:10px;line-height:12.00px;letter-spacing:0px">北川景子</div>
<div class="val" style="left:313.8px;top:313.75px;font-size:9px;line-height:10.80px">14.0%</div>
<div class="bar" style="left:183px;top:333.60px;width:121.2px;height:8.3px"></div>
<div class="lab" style="right:485.5px;top:331.75px;font-size:10px;line-height:12.00px;letter-spacing:0px">石原さとみ</div>
<div class="val" style="left:311.2px;top:334.65px;font-size:9px;line-height:10.80px">13.7%</div>
<div class="bar" style="left:183px;top:354.50px;width:118.5px;height:8.3px"></div>
<div class="lab" style="right:485.5px;top:352.65px;font-size:10px;line-height:12.00px;letter-spacing:0px">長澤まさみ</div>
<div class="val" style="left:308.5px;top:355.55px;font-size:9px;line-height:10.80px">13.4%</div>
<div class="bar" style="left:183px;top:375.40px;width:106.1px;height:8.3px"></div>
<div class="lab" style="right:485.5px;top:373.55px;font-size:10px;line-height:12.00px;letter-spacing:0px">有村架純</div>
<div class="val" style="left:296.1px;top:376.45px;font-size:9px;line-height:10.80px">12.0%</div>
<div class="bar" style="left:183px;top:396.30px;width:96.4px;height:8.3px"></div>
<div class="lab" style="right:485.5px;top:394.45px;font-size:10px;line-height:12.00px;letter-spacing:0px">上戸彩</div>
<div class="val" style="left:286.4px;top:397.35px;font-size:9px;line-height:10.80px">10.9%</div>
<div class="bar" style="left:183px;top:417.20px;width:67.2px;height:8.3px"></div>
<div class="lab" style="right:485.5px;top:415.35px;font-size:10px;line-height:12.00px;letter-spacing:0px">宮崎あおい</div>
<div class="val" style="left:257.2px;top:418.25px;font-size:9px;line-height:10.80px">7.6%</div>
<div class="panel" style="left:77px;top:447px;width:506px;height:212px"></div>
<div class="t" style="left:178.6px;top:459px;font-size:12px;letter-spacing:0.37px">ネット用語を使うと好印象な男性芸能人を選んでください</div>
<div class="axis" style="left:165px;top:479px;height:178px"></div>
<div class="bar" style="left:166px;top:483.60px;width:368.4px;height:7.2px"></div>
<div class="lab" style="right:502px;top:481.50px;font-size:9.5px;line-height:11.40px;letter-spacing:0px">櫻井翔</div>
<div class="val" style="left:541.4px;top:483.60px;font-size:8.5px;line-height:10.20px">22.1%</div>
<div class="bar" style="left:166px;top:501.62px;width:336.7px;height:7.2px"></div>
<div class="lab" style="right:502px;top:499.52px;font-size:9.5px;line-height:11.40px;letter-spacing:0px">千葉雄大</div>
<div class="val" style="left:509.7px;top:501.62px;font-size:8.5px;line-height:10.20px">20.2%</div>
<div class="bar" style="left:166px;top:519.64px;width:275.0px;height:7.2px"></div>
<div class="lab" style="right:502px;top:517.54px;font-size:9.5px;line-height:11.40px;letter-spacing:0px">堺雅人</div>
<div class="val" style="left:448.0px;top:519.64px;font-size:8.5px;line-height:10.20px">16.5%</div>
<div class="bar" style="left:166px;top:537.66px;width:266.7px;height:7.2px"></div>
<div class="lab" style="right:502px;top:535.56px;font-size:9.5px;line-height:11.40px;letter-spacing:0px">福山雅治</div>
<div class="val" style="left:439.7px;top:537.66px;font-size:8.5px;line-height:10.20px">16.0%</div>
<div class="bar" style="left:166px;top:555.68px;width:220.0px;height:7.2px"></div>
<div class="lab" style="right:502px;top:553.58px;font-size:9.5px;line-height:11.40px;letter-spacing:0px">三浦春馬</div>
<div class="val" style="left:393.0px;top:555.68px;font-size:8.5px;line-height:10.20px">13.2%</div>
<div class="bar" style="left:166px;top:573.70px;width:200.0px;height:7.2px"></div>
<div class="lab" style="right:502px;top:571.60px;font-size:9.5px;line-height:11.40px;letter-spacing:0px">斎藤工</div>
<div class="val" style="left:373.0px;top:573.70px;font-size:8.5px;line-height:10.20px">12.0%</div>
<div class="bar" style="left:166px;top:591.72px;width:186.7px;height:7.2px"></div>
<div class="lab" style="right:502px;top:589.62px;font-size:9.5px;line-height:11.40px;letter-spacing:0px">向井理</div>
<div class="val" style="left:359.7px;top:591.72px;font-size:8.5px;line-height:10.20px">11.2%</div>
<div class="bar" style="left:166px;top:609.74px;width:176.7px;height:7.2px"></div>
<div class="lab" style="right:502px;top:607.64px;font-size:9.5px;line-height:11.40px;letter-spacing:0px">岡田准一</div>
<div class="val" style="left:349.7px;top:609.74px;font-size:8.5px;line-height:10.20px">10.6%</div>
<div class="bar" style="left:166px;top:627.76px;width:173.4px;height:7.2px"></div>
<div class="lab" style="right:502px;top:625.66px;font-size:9.5px;line-height:11.40px;letter-spacing:0px">木村拓哉</div>
<div class="val" style="left:346.4px;top:627.76px;font-size:8.5px;line-height:10.20px">10.4%</div>
<div class="bar" style="left:166px;top:645.78px;width:116.7px;height:7.2px"></div>
<div class="lab" style="right:502px;top:643.68px;font-size:9.5px;line-height:11.40px;letter-spacing:0px">西島秀俊</div>
<div class="val" style="left:289.7px;top:645.78px;font-size:8.5px;line-height:10.20px">7.0%</div>
<div style="position:absolute;left:327px;top:440px;width:2.5px;height:7px;background:#d98a6a"></div>
<div class="foot"></div>
<div class="ft">カップル専用アプリPairy(ペアリー)調べ</div>
</body></html>
